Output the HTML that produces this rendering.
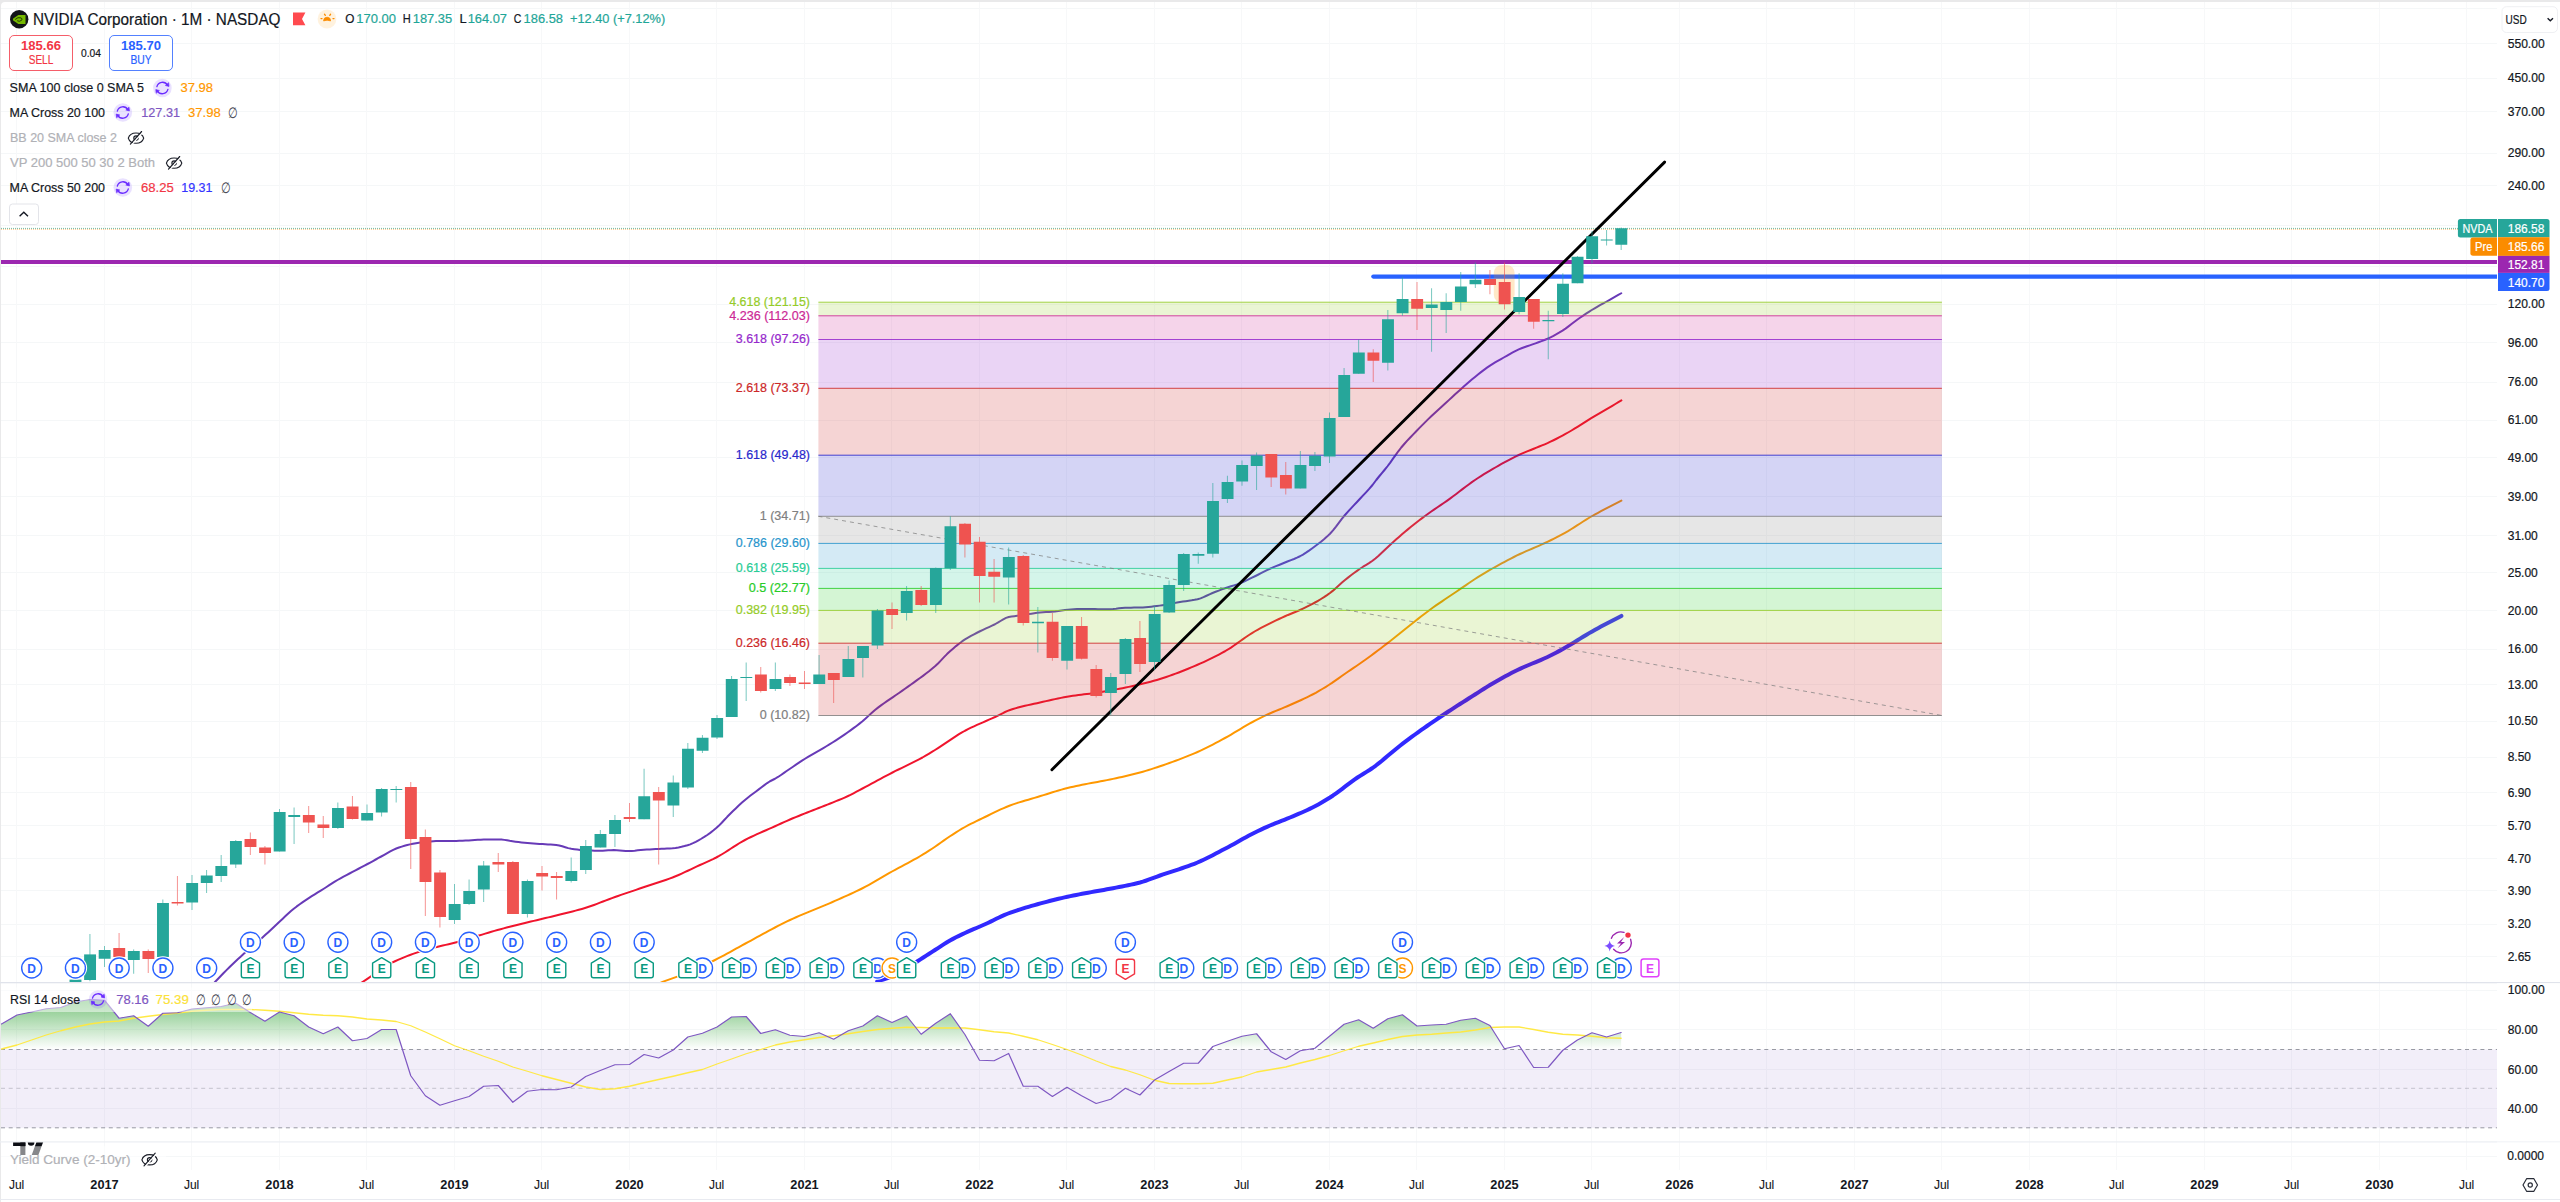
<!DOCTYPE html>
<html lang="en"><head><meta charset="utf-8"><title>NVDA chart</title>
<style>html,body{margin:0;padding:0;background:#fff;overflow:hidden}body{width:2560px;height:1202px}svg{display:block;font-family:'Liberation Sans', sans-serif}text{white-space:pre}</style>
</head><body>
<svg width="2560" height="1202" viewBox="0 0 2560 1202">
<defs>
<clipPath id="cm"><rect x="1" y="2" width="2496" height="980"/></clipPath>
<clipPath id="cr"><rect x="1" y="983" width="2496" height="158"/></clipPath>
<clipPath id="c70"><rect x="0" y="983" width="2497" height="66.5"/></clipPath>
<linearGradient id="gg" x1="0" y1="990.5" x2="0" y2="1049.5" gradientUnits="userSpaceOnUse"><stop offset="0" stop-color="#4caf50" stop-opacity="0.88"/><stop offset="1" stop-color="#4caf50" stop-opacity="0"/></linearGradient>
</defs>
<rect width="2560" height="1202" fill="#e9e9ea"/>
<path d="M1 6 a4 4 0 0 1 4 -4 H2560 V1202 H1 Z" fill="#fff"/>
<rect x="0" y="1199" width="2560" height="1" fill="#e8eaf0"/>
<rect x="1" y="1200" width="2559" height="2" fill="#fff"/>
<g fill="#f5f7f8">
<rect x="1" y="8" width="2496" height="1"/>
<rect x="1" y="43" width="2496" height="1"/>
<rect x="1" y="78" width="2496" height="1"/>
<rect x="1" y="111" width="2496" height="1"/>
<rect x="1" y="153" width="2496" height="1"/>
<rect x="1" y="185" width="2496" height="1"/>
<rect x="1" y="225" width="2496" height="1"/>
<rect x="1" y="266" width="2496" height="1"/>
<rect x="1" y="304" width="2496" height="1"/>
<rect x="1" y="342" width="2496" height="1"/>
<rect x="1" y="382" width="2496" height="1"/>
<rect x="1" y="420" width="2496" height="1"/>
<rect x="1" y="457" width="2496" height="1"/>
<rect x="1" y="496" width="2496" height="1"/>
<rect x="1" y="535" width="2496" height="1"/>
<rect x="1" y="572" width="2496" height="1"/>
<rect x="1" y="610" width="2496" height="1"/>
<rect x="1" y="649" width="2496" height="1"/>
<rect x="1" y="684" width="2496" height="1"/>
<rect x="1" y="721" width="2496" height="1"/>
<rect x="1" y="757" width="2496" height="1"/>
<rect x="1" y="792" width="2496" height="1"/>
<rect x="1" y="825" width="2496" height="1"/>
<rect x="1" y="858" width="2496" height="1"/>
<rect x="1" y="890" width="2496" height="1"/>
<rect x="1" y="924" width="2496" height="1"/>
<rect x="1" y="956" width="2496" height="1"/>
<rect x="1" y="990" width="2496" height="1"/>
<rect x="1" y="1029" width="2496" height="1"/>
<rect x="1" y="1069" width="2496" height="1"/>
<rect x="1" y="1108" width="2496" height="1"/>
<rect x="1" y="1156" width="2496" height="1"/>
<rect x="16" y="2" width="1" height="1168" fill="#f7f8f9"/>
<rect x="104" y="2" width="1" height="1168" fill="#f7f8f9"/>
<rect x="191" y="2" width="1" height="1168" fill="#f7f8f9"/>
<rect x="279" y="2" width="1" height="1168" fill="#f7f8f9"/>
<rect x="366" y="2" width="1" height="1168" fill="#f7f8f9"/>
<rect x="454" y="2" width="1" height="1168" fill="#f7f8f9"/>
<rect x="541" y="2" width="1" height="1168" fill="#f7f8f9"/>
<rect x="629" y="2" width="1" height="1168" fill="#f7f8f9"/>
<rect x="716" y="2" width="1" height="1168" fill="#f7f8f9"/>
<rect x="804" y="2" width="1" height="1168" fill="#f7f8f9"/>
<rect x="891" y="2" width="1" height="1168" fill="#f7f8f9"/>
<rect x="979" y="2" width="1" height="1168" fill="#f7f8f9"/>
<rect x="1066" y="2" width="1" height="1168" fill="#f7f8f9"/>
<rect x="1154" y="2" width="1" height="1168" fill="#f7f8f9"/>
<rect x="1241" y="2" width="1" height="1168" fill="#f7f8f9"/>
<rect x="1329" y="2" width="1" height="1168" fill="#f7f8f9"/>
<rect x="1416" y="2" width="1" height="1168" fill="#f7f8f9"/>
<rect x="1504" y="2" width="1" height="1168" fill="#f7f8f9"/>
<rect x="1591" y="2" width="1" height="1168" fill="#f7f8f9"/>
<rect x="1679" y="2" width="1" height="1168" fill="#f7f8f9"/>
<rect x="1766" y="2" width="1" height="1168" fill="#f7f8f9"/>
<rect x="1854" y="2" width="1" height="1168" fill="#f7f8f9"/>
<rect x="1941" y="2" width="1" height="1168" fill="#f7f8f9"/>
<rect x="2029" y="2" width="1" height="1168" fill="#f7f8f9"/>
<rect x="2116" y="2" width="1" height="1168" fill="#f7f8f9"/>
<rect x="2204" y="2" width="1" height="1168" fill="#f7f8f9"/>
<rect x="2291" y="2" width="1" height="1168" fill="#f7f8f9"/>
<rect x="2379" y="2" width="1" height="1168" fill="#f7f8f9"/>
<rect x="2466" y="2" width="1" height="1168" fill="#f7f8f9"/>
</g>
<g clip-path="url(#cr)">
<rect x="1" y="1049.5" width="2496" height="78.3" fill="#7e57c2" fill-opacity="0.1"/>
<path d="M-12.17,1060 L-12.17,1030 L2.42,1023.5 L17,1015 L31.58,1012 L46.17,1008.75 L60.75,1007.5 L75.33,1002 L89.92,999.5 L104.5,1000.25 L119.08,1018.25 L133.67,1015.75 L148.25,1026.25 L162.83,1013.25 L177.42,1012.75 L192,1009 L206.58,1007.75 L221.17,1006.5 L235.75,1003.25 L250.33,1012.5 L264.92,1021.25 L279.5,1012 L294.08,1015.75 L308.67,1027 L323.25,1033.75 L337.83,1027 L352.42,1040.75 L367,1038.5 L381.58,1029.5 L396.17,1029.5 L410.75,1075.75 L425.33,1095.75 L439.92,1105.25 L454.5,1100.75 L469.08,1096.5 L483.67,1086.25 L498.25,1085.5 L512.83,1102.25 L527.42,1091.25 L542,1089.5 L556.58,1089.75 L571.17,1087 L585.75,1076.5 L600.33,1070.5 L614.92,1064.75 L629.5,1064.5 L644.08,1054.5 L658.67,1058 L673.25,1050 L687.83,1037 L702.42,1033.25 L717,1027 L731.58,1017 L746.17,1016.5 L760.75,1033.5 L775.33,1029.75 L789.92,1035.25 L804.5,1036.5 L819.08,1032.75 L833.66,1039.25 L848.25,1030.75 L862.83,1026 L877.41,1015.75 L892,1022.5 L906.58,1016 L921.16,1034.25 L935.75,1023.25 L950.33,1013.75 L964.91,1034.5 L979.5,1060.25 L994.08,1060.75 L1008.66,1053.5 L1023.25,1086.25 L1037.83,1086.25 L1052.41,1096.5 L1067,1087.25 L1081.58,1095.75 L1096.16,1103.5 L1110.75,1099.25 L1125.33,1088.25 L1139.91,1095 L1154.5,1080 L1169.08,1071.5 L1183.66,1063.25 L1198.25,1063.25 L1212.83,1046.5 L1227.41,1041.25 L1242,1036.25 L1256.58,1033.75 L1271.16,1051.75 L1285.75,1059.5 L1300.33,1050.75 L1314.91,1048.25 L1329.5,1036.25 L1344.08,1024.25 L1358.66,1019.75 L1373.25,1028.25 L1387.83,1018.75 L1402.41,1014.75 L1417,1026 L1431.58,1025 L1446.16,1024.25 L1460.75,1020.25 L1475.33,1018.25 L1489.91,1025.5 L1504.5,1048.75 L1519.08,1045.5 L1533.66,1067.5 L1548.25,1067.25 L1562.83,1050.25 L1577.41,1040 L1592,1032.75 L1606.58,1037 L1621.16,1032.5 L1621.16,1060 Z" fill="url(#gg)" clip-path="url(#c70)"/>
<line x1="1" x2="2497" y1="1049.5" y2="1049.5" stroke="#787b86" stroke-opacity="0.75" stroke-width="1" stroke-dasharray="4 3.7"/>
<line x1="1" x2="2497" y1="1088.3" y2="1088.3" stroke="#787b86" stroke-opacity="0.38" stroke-width="1" stroke-dasharray="4 3.7"/>
<line x1="1" x2="2497" y1="1127.8" y2="1127.8" stroke="#787b86" stroke-opacity="0.75" stroke-width="1" stroke-dasharray="4 3.7"/>
<polyline points="-12.17,1052 2.42,1048.75 17,1045 31.58,1040 46.17,1035 60.75,1030.75 75.33,1027 89.92,1024 104.5,1022 119.08,1021 133.67,1018.25 148.25,1016.25 162.83,1014.5 177.42,1013 192,1011.25 206.58,1010.25 221.17,1009.5 235.75,1009.5 250.33,1009.5 264.92,1010.25 279.5,1011.25 294.08,1012.75 308.67,1014.25 323.25,1015.25 337.83,1015.75 352.42,1017 367,1019 381.58,1020 396.17,1021.5 410.75,1025.75 425.33,1032 439.92,1038.75 454.5,1045.75 469.08,1050.75 483.67,1056.25 498.25,1061.25 512.83,1067 527.42,1071.25 542,1075.75 556.58,1079.5 571.17,1083.25 585.75,1087 600.33,1089.5 614.92,1088.75 629.5,1086.25 644.08,1082.75 658.67,1079.5 673.25,1076.25 687.83,1072.75 702.42,1069.5 717,1064 731.58,1059 746.17,1053.75 760.75,1049.5 775.33,1045 789.92,1042 804.5,1039.75 819.08,1037.5 833.66,1035.75 848.25,1033.75 862.83,1031.5 877.41,1029.5 892,1028.25 906.58,1027.25 921.16,1027.5 935.75,1028 950.33,1028 964.91,1028 979.5,1029.75 994.08,1031.75 1008.66,1033 1023.25,1036.25 1037.83,1039.75 1052.41,1044.5 1067,1049.5 1081.58,1055 1096.16,1061 1110.75,1066.5 1125.33,1070 1139.91,1074.75 1154.5,1080.25 1169.08,1083.5 1183.66,1083.75 1198.25,1083.75 1212.83,1083.25 1227.41,1080 1242,1077 1256.58,1072 1271.16,1069.5 1285.75,1067 1300.33,1063 1314.91,1059.5 1329.5,1055.5 1344.08,1050.75 1358.66,1046.25 1373.25,1043 1387.83,1039.5 1402.41,1036.5 1417,1035 1431.58,1034.25 1446.16,1033 1460.75,1032 1475.33,1030 1489.91,1027.5 1504.5,1027 1519.08,1027 1533.66,1029.5 1548.25,1032.25 1562.83,1034.25 1577.41,1035 1592,1036.25 1606.58,1037.75 1621.16,1038.25" fill="none" stroke="#ffe83b" stroke-width="1.3" stroke-linejoin="round" stroke-linecap="round" stroke-opacity="0.95"/>
<polyline points="-12.17,1030 2.42,1023.5 17,1015 31.58,1012 46.17,1008.75 60.75,1007.5 75.33,1002 89.92,999.5 104.5,1000.25 119.08,1018.25 133.67,1015.75 148.25,1026.25 162.83,1013.25 177.42,1012.75 192,1009 206.58,1007.75 221.17,1006.5 235.75,1003.25 250.33,1012.5 264.92,1021.25 279.5,1012 294.08,1015.75 308.67,1027 323.25,1033.75 337.83,1027 352.42,1040.75 367,1038.5 381.58,1029.5 396.17,1029.5 410.75,1075.75 425.33,1095.75 439.92,1105.25 454.5,1100.75 469.08,1096.5 483.67,1086.25 498.25,1085.5 512.83,1102.25 527.42,1091.25 542,1089.5 556.58,1089.75 571.17,1087 585.75,1076.5 600.33,1070.5 614.92,1064.75 629.5,1064.5 644.08,1054.5 658.67,1058 673.25,1050 687.83,1037 702.42,1033.25 717,1027 731.58,1017 746.17,1016.5 760.75,1033.5 775.33,1029.75 789.92,1035.25 804.5,1036.5 819.08,1032.75 833.66,1039.25 848.25,1030.75 862.83,1026 877.41,1015.75 892,1022.5 906.58,1016 921.16,1034.25 935.75,1023.25 950.33,1013.75 964.91,1034.5 979.5,1060.25 994.08,1060.75 1008.66,1053.5 1023.25,1086.25 1037.83,1086.25 1052.41,1096.5 1067,1087.25 1081.58,1095.75 1096.16,1103.5 1110.75,1099.25 1125.33,1088.25 1139.91,1095 1154.5,1080 1169.08,1071.5 1183.66,1063.25 1198.25,1063.25 1212.83,1046.5 1227.41,1041.25 1242,1036.25 1256.58,1033.75 1271.16,1051.75 1285.75,1059.5 1300.33,1050.75 1314.91,1048.25 1329.5,1036.25 1344.08,1024.25 1358.66,1019.75 1373.25,1028.25 1387.83,1018.75 1402.41,1014.75 1417,1026 1431.58,1025 1446.16,1024.25 1460.75,1020.25 1475.33,1018.25 1489.91,1025.5 1504.5,1048.75 1519.08,1045.5 1533.66,1067.5 1548.25,1067.25 1562.83,1050.25 1577.41,1040 1592,1032.75 1606.58,1037 1621.16,1032.5" fill="none" stroke="#7e57c2" stroke-width="1.2" stroke-linejoin="round" stroke-linecap="round"/>
</g>
<g clip-path="url(#cm)">
<line x1="1" x2="2458" y1="228.4" y2="228.4" stroke="#2e9e80" stroke-width="1" stroke-dasharray="1 1" stroke-opacity="0.7"/>
<line x1="1" x2="2471" y1="229.4" y2="229.4" stroke="#ff9a20" stroke-width="1" stroke-dasharray="1 1" stroke-opacity="0.5"/>
<polyline points="877.2,981.4 880.16,980.44 883.12,979.51 886.08,978.57 889.04,977.55 892,976.4 894.92,975.07 897.84,973.55 900.76,971.89 903.68,970.16 906.6,968.4 909.33,966.7 912.05,964.89 914.77,963.06 917.5,961.25 920.42,959.36 923.33,957.48 926.25,955.6 929.17,953.73 932.08,951.86 935,950 938,948.06 941,946.08 944,944.13 947,942.25 950,940.5 953,938.87 956,937.33 959,935.85 962,934.41 965,933 967.86,931.69 970.71,930.43 973.57,929.19 976.43,927.97 979.29,926.75 982.14,925.52 985,924.25 987.81,922.94 990.62,921.58 993.44,920.19 996.25,918.8 999.06,917.43 1001.88,916.12 1004.69,914.88 1007.5,913.75 1010.5,912.63 1013.5,911.57 1016.5,910.55 1019.5,909.57 1022.5,908.62 1025.5,907.7 1028.5,906.81 1031.5,905.95 1034.5,905.09 1037.5,904.25 1040.5,903.42 1043.5,902.61 1046.5,901.81 1049.5,901.04 1052.5,900.28 1055.5,899.54 1058.5,898.81 1061.5,898.11 1064.5,897.42 1067.5,896.75 1070.42,896.12 1073.33,895.52 1076.25,894.93 1079.17,894.36 1082.08,893.81 1085,893.25 1088.12,892.67 1091.25,892.1 1094.38,891.55 1097.5,891.01 1100.62,890.46 1103.75,889.91 1106.88,889.34 1110,888.75 1113,888.18 1116,887.62 1119,887.05 1122,886.48 1125,885.9 1128,885.29 1131,884.66 1134,883.99 1137,883.27 1140,882.5 1142.86,881.68 1145.71,880.74 1148.57,879.73 1151.43,878.67 1154.29,877.59 1157.14,876.53 1160,875.5 1163.12,874.43 1166.25,873.38 1169.38,872.36 1172.5,871.34 1175.62,870.33 1178.75,869.3 1181.88,868.26 1185,867.2 1188.12,866.1 1191.25,864.95 1194.38,863.76 1197.5,862.5 1200.56,861.19 1203.61,859.79 1206.67,858.31 1209.72,856.78 1212.78,855.2 1215.83,853.59 1218.89,851.97 1221.94,850.35 1225,848.75 1228,847.17 1231,845.54 1234,843.89 1237,842.22 1240,840.54 1243,838.87 1246,837.22 1249,835.6 1252,834.02 1255,832.5 1258,831.02 1261,829.58 1264,828.18 1267,826.82 1270,825.5 1272.86,824.3 1275.71,823.14 1278.57,822.02 1281.43,820.92 1284.29,819.81 1287.14,818.67 1290,817.5 1292.81,816.32 1295.62,815.14 1298.44,813.94 1301.25,812.73 1304.06,811.49 1306.88,810.21 1309.69,808.88 1312.5,807.5 1315.42,806 1318.33,804.43 1321.25,802.79 1324.17,801.09 1327.08,799.32 1330,797.5 1333.06,795.49 1336.11,793.34 1339.17,791.1 1342.22,788.8 1345.28,786.46 1348.33,784.13 1351.39,781.84 1354.44,779.62 1357.5,777.5 1360.5,775.56 1363.5,773.71 1366.5,771.89 1369.5,770.01 1372.5,768 1375.56,765.78 1378.61,763.42 1381.67,760.95 1384.72,758.41 1387.78,755.84 1390.83,753.25 1393.89,750.68 1396.94,748.17 1400,745.75 1403,743.44 1406,741.16 1409,738.9 1412,736.69 1415,734.5 1418,732.34 1421,730.21 1424,728.09 1427,725.99 1430,723.91 1433,721.85 1436,719.8 1439,717.77 1442,715.75 1445,713.75 1448,711.77 1451,709.8 1454,707.86 1457,705.93 1460,704.02 1463,702.11 1466,700.21 1469,698.31 1472,696.41 1475,694.5 1478,692.57 1481,690.63 1484,688.7 1487,686.82 1490,685 1493.06,683.21 1496.11,681.44 1499.17,679.7 1502.22,677.99 1505.28,676.31 1508.33,674.67 1511.39,673.07 1514.44,671.51 1517.5,670 1520.45,668.6 1523.41,667.26 1526.36,665.98 1529.32,664.73 1532.27,663.51 1535.23,662.29 1538.18,661.06 1541.14,659.82 1544.09,658.53 1547.05,657.2 1550,655.8 1553,654.3 1556,652.74 1559,651.13 1562,649.48 1565,647.8 1568.02,646.06 1571.04,644.26 1574.07,642.42 1577.09,640.55 1580.11,638.67 1583.13,636.79 1586.16,634.95 1589.18,633.14 1592.2,631.4 1595.12,629.77 1598.04,628.17 1600.96,626.6 1603.88,625.06 1606.8,623.53 1609.72,622 1612.64,620.49 1615.56,618.97 1618.48,617.44 1621.4,615.9" fill="none" stroke="#3129ff" stroke-width="4" stroke-linejoin="round" stroke-linecap="round"/>
<polyline points="645,990 647.92,988.65 650.83,987.27 653.75,985.89 656.67,984.54 659.58,983.24 662.5,982 665.31,980.89 668.12,979.84 670.94,978.84 673.75,977.87 676.56,976.89 679.38,975.89 682.19,974.85 685,973.75 688,972.51 691,971.24 694,969.93 697,968.59 700,967.22 703,965.82 706,964.39 709,962.95 712,961.48 715,960 718,958.48 721,956.92 724,955.31 727,953.68 730,952.02 733,950.35 736,948.68 739,947.02 742,945.37 745,943.75 748,942.14 751,940.51 754,938.87 757,937.23 760,935.59 763,933.95 766,932.32 769,930.7 772,929.09 775,927.5 778,925.94 781,924.4 784,922.9 787,921.43 790,920 793.04,918.6 796.07,917.24 799.11,915.91 802.14,914.62 805.18,913.35 808.21,912.09 811.25,910.85 814.29,909.61 817.32,908.38 820.36,907.14 823.39,905.89 826.43,904.62 829.46,903.32 832.5,902 835.5,900.68 838.5,899.36 841.5,898.04 844.5,896.71 847.5,895.37 850.5,894.01 853.5,892.62 856.5,891.2 859.5,889.75 862.5,888.25 865.5,886.69 868.5,885.07 871.5,883.39 874.5,881.68 877.5,879.93 880.5,878.18 883.5,876.41 886.5,874.67 889.5,872.94 892.5,871.25 895.56,869.57 898.61,867.93 901.67,866.3 904.72,864.68 907.78,863.06 910.83,861.41 913.89,859.74 916.94,858.02 920,856.25 923,854.45 926,852.59 929,850.68 932,848.73 935,846.75 938,844.7 941,842.56 944,840.4 947,838.28 950,836.25 953,834.3 956,832.38 959,830.51 962,828.71 965,827 967.86,825.45 970.71,823.96 973.57,822.52 976.43,821.11 979.29,819.73 982.14,818.37 985,817 988.12,815.48 991.25,813.95 994.38,812.42 997.5,810.91 1000.62,809.44 1003.75,808.04 1006.88,806.72 1010,805.5 1013.06,804.4 1016.11,803.38 1019.17,802.41 1022.22,801.48 1025.28,800.57 1028.33,799.69 1031.39,798.81 1034.44,797.91 1037.5,797 1040.5,796.07 1043.5,795.13 1046.5,794.18 1049.5,793.23 1052.5,792.28 1055.5,791.36 1058.5,790.46 1061.5,789.59 1064.5,788.77 1067.5,788 1070.42,787.31 1073.33,786.65 1076.25,786.03 1079.17,785.43 1082.08,784.84 1085,784.25 1088.12,783.63 1091.25,783.04 1094.38,782.47 1097.5,781.9 1100.62,781.32 1103.75,780.74 1106.88,780.13 1110,779.5 1113,778.87 1116,778.23 1119,777.58 1122,776.91 1125,776.23 1128,775.53 1131,774.81 1134,774.06 1137,773.3 1140,772.5 1142.86,771.71 1145.71,770.87 1148.57,770 1151.43,769.09 1154.29,768.16 1157.14,767.21 1160,766.25 1163.12,765.18 1166.25,764.1 1169.38,763 1172.5,761.89 1175.62,760.75 1178.75,759.59 1181.88,758.4 1185,757.19 1188.12,755.94 1191.25,754.66 1194.38,753.35 1197.5,752 1200.56,750.63 1203.61,749.19 1206.67,747.69 1209.72,746.15 1212.78,744.56 1215.83,742.95 1218.89,741.31 1221.94,739.66 1225,738 1228.06,736.3 1231.11,734.54 1234.17,732.73 1237.22,730.89 1240.28,729.05 1243.33,727.22 1246.39,725.42 1249.44,723.67 1252.5,722 1255.5,720.42 1258.5,718.87 1261.5,717.37 1264.5,715.91 1267.5,714.5 1270.31,713.24 1273.12,712.03 1275.94,710.85 1278.75,709.7 1281.56,708.56 1284.38,707.4 1287.19,706.22 1290,705 1292.81,703.75 1295.62,702.51 1298.44,701.25 1301.25,699.97 1304.06,698.67 1306.88,697.33 1309.69,695.94 1312.5,694.5 1315.75,692.76 1319,690.92 1322.25,689.01 1325.5,687.04 1328.75,685 1332,682.87 1335.25,680.63 1338.5,678.34 1341.75,676.03 1345,673.75 1347.86,671.79 1350.71,669.85 1353.57,667.91 1356.43,665.97 1359.29,664.01 1362.14,662.02 1365,660 1368.12,657.75 1371.25,655.46 1374.38,653.15 1377.5,650.81 1380.62,648.44 1383.75,646.06 1386.88,643.66 1390,641.25 1393.12,638.81 1396.25,636.32 1399.38,633.81 1402.5,631.28 1405.62,628.75 1408.75,626.22 1411.88,623.72 1415,621.25 1418,618.89 1421,616.54 1424,614.21 1427,611.92 1430,609.7 1433,607.54 1436,605.42 1439,603.35 1442,601.3 1445,599.27 1448,597.26 1451,595.26 1454,593.25 1457,591.23 1460,589.2 1463,587.14 1466,585.06 1469,582.99 1472,580.96 1475,579 1477.9,577.16 1480.8,575.35 1483.7,573.59 1486.6,571.85 1489.5,570.16 1492.4,568.5 1495.47,566.78 1498.53,565.08 1501.6,563.41 1504.67,561.76 1507.73,560.15 1510.8,558.56 1513.87,557.01 1516.93,555.48 1520,554 1523.12,552.55 1526.25,551.16 1529.38,549.81 1532.5,548.49 1535.62,547.16 1538.75,545.82 1541.88,544.44 1545,543 1547.86,541.64 1550.71,540.25 1553.57,538.83 1556.43,537.38 1559.29,535.89 1562.14,534.37 1565,532.8 1568.02,531.07 1571.04,529.24 1574.07,527.35 1577.09,525.42 1580.11,523.47 1583.13,521.53 1586.16,519.62 1589.18,517.77 1592.2,516 1595.12,514.36 1598.04,512.76 1600.96,511.2 1603.88,509.66 1606.8,508.15 1609.72,506.64 1612.64,505.14 1615.56,503.64 1618.48,502.13 1621.4,500.6" fill="none" stroke="#ff9800" stroke-width="2" stroke-linejoin="round" stroke-linecap="round"/>
<polyline points="350,990 353.12,988 356.25,986 359.38,984 362.5,982 365.45,980.07 368.41,978.08 371.36,976.04 374.32,973.99 377.27,971.95 380.23,969.94 383.18,967.99 386.14,966.12 389.09,964.36 392.05,962.73 395,961.25 398,959.87 401,958.56 404,957.31 407,956.11 410,954.98 413,953.89 416,952.85 419,951.86 422,950.91 425,950 427.95,949.15 430.91,948.36 433.86,947.62 436.82,946.91 439.77,946.22 442.73,945.55 445.68,944.88 448.64,944.2 451.59,943.5 454.55,942.77 457.5,942 460.58,941.15 463.65,940.27 466.73,939.35 469.81,938.42 472.88,937.47 475.96,936.51 479.04,935.54 482.12,934.58 485.19,933.62 488.27,932.68 491.35,931.76 494.42,930.86 497.5,930 500.56,929.17 503.61,928.37 506.67,927.58 509.72,926.8 512.78,926.03 515.83,925.27 518.89,924.51 521.94,923.76 525,923 527.92,922.28 530.83,921.57 533.75,920.86 536.67,920.16 539.58,919.46 542.5,918.76 545.42,918.06 548.33,917.36 551.25,916.66 554.17,915.95 557.08,915.23 560,914.5 563.12,913.72 566.25,912.95 569.38,912.19 572.5,911.41 575.62,910.61 578.75,909.78 581.88,908.92 585,908 588,907.05 591,906.03 594,904.96 597,903.84 600,902.69 603,901.52 606,900.36 609,899.21 612,898.08 615,897 618,895.95 621,894.91 624,893.88 627,892.86 630,891.85 633,890.84 636,889.83 639,888.82 642,887.81 645,886.8 648.06,885.78 651.11,884.78 654.17,883.8 657.22,882.81 660.28,881.82 663.33,880.8 666.39,879.75 669.44,878.65 672.5,877.5 675.56,876.27 678.61,874.97 681.67,873.61 684.72,872.21 687.78,870.77 690.83,869.32 693.89,867.86 696.94,866.42 700,865 703.25,863.54 706.5,862.1 709.75,860.64 713,859.12 716.25,857.5 719.12,855.94 722,854.25 724.88,852.48 727.75,850.64 730.62,848.77 733.5,846.9 736.38,845.05 739.25,843.27 742.12,841.57 745,840 748,838.47 751,837 754,835.58 757,834.21 760,832.86 763,831.54 766,830.23 769,828.92 772,827.6 775,826.25 778,824.88 781,823.51 784,822.14 787,820.8 790,819.5 792.88,818.29 795.75,817.11 798.62,815.95 801.5,814.8 804.38,813.67 807.25,812.55 810.12,811.42 813,810.29 815.88,809.15 818.75,808 821.62,806.85 824.5,805.72 827.38,804.59 830.25,803.47 833.12,802.33 836,801.18 838.88,800.01 841.75,798.8 844.62,797.55 847.5,796.25 850.5,794.81 853.5,793.28 856.5,791.69 859.5,790.09 862.5,788.5 865.5,786.92 868.5,785.32 871.5,783.71 874.5,782.09 877.5,780.47 880.5,778.85 883.5,777.24 886.5,775.64 889.5,774.06 892.5,772.5 895.5,770.97 898.5,769.49 901.5,768.03 904.5,766.58 907.5,765.14 910.5,763.68 913.5,762.2 916.5,760.69 919.5,759.12 922.5,757.5 925.62,755.72 928.75,753.85 931.88,751.93 935,750 938,748.11 941,746.14 944,744.13 947,742.1 950,740.07 953,738.06 956,736.1 959,734.21 962,732.42 965,730.75 968,729.19 971,727.71 974,726.3 977,724.93 980,723.61 983,722.3 986,721 989,719.69 992,718.37 995,717 998,715.54 1001,714.02 1004,712.53 1007,711.15 1010,710 1013,709.03 1016,708.14 1019,707.32 1022,706.56 1025,705.84 1028,705.15 1031,704.49 1034,703.83 1037,703.17 1040,702.5 1043,701.82 1046,701.13 1049,700.45 1052,699.78 1055,699.13 1058,698.49 1061,697.88 1064,697.3 1067,696.75 1070,696.25 1072.81,695.82 1075.62,695.42 1078.44,695.06 1081.25,694.7 1084.06,694.36 1086.88,694.01 1089.69,693.64 1092.5,693.25 1095.42,692.82 1098.33,692.39 1101.25,691.94 1104.17,691.48 1107.08,691 1110,690.5 1113.12,689.94 1116.25,689.37 1119.38,688.77 1122.5,688.16 1125.62,687.53 1128.75,686.87 1131.88,686.2 1135,685.5 1138.12,684.78 1141.25,684.05 1144.38,683.29 1147.5,682.5 1150.62,681.68 1153.75,680.82 1156.88,679.93 1160,679 1163.12,678.02 1166.25,677 1169.38,675.92 1172.5,674.81 1175.62,673.66 1178.75,672.47 1181.88,671.24 1185,669.99 1188.12,668.71 1191.25,667.41 1194.38,666.09 1197.5,664.75 1200.56,663.42 1203.61,662.05 1206.67,660.64 1209.72,659.2 1212.78,657.71 1215.83,656.17 1218.89,654.58 1221.94,652.94 1225,651.25 1228,649.47 1231,647.55 1234,645.52 1237,643.42 1240,641.28 1243,639.13 1246,637.02 1249,634.98 1252,633.05 1255,631.25 1258,629.56 1261,627.93 1264,626.34 1267,624.8 1270,623.29 1273,621.83 1276,620.39 1279,618.99 1282,617.61 1285,616.25 1288,614.95 1291,613.73 1294,612.53 1297,611.31 1300,610 1303,608.62 1306,607.18 1309,605.69 1312,604.13 1315,602.5 1318,600.79 1321,599 1324,597.12 1327,595.12 1330,593 1333,590.63 1336,588 1339,585.26 1342,582.54 1345,580 1348,577.62 1351,575.3 1354,573.04 1357,570.86 1360,568.75 1363.12,566.72 1366.25,564.83 1369.38,562.9 1372.5,560.75 1375.42,558.44 1378.33,555.9 1381.25,553.2 1384.17,550.43 1387.08,547.67 1390,545 1393,542.31 1396,539.61 1399,536.93 1402,534.3 1405,531.75 1407.86,529.38 1410.71,527.06 1413.57,524.77 1416.43,522.52 1419.29,520.31 1422.14,518.13 1425,516 1428.12,513.73 1431.25,511.52 1434.38,509.36 1437.5,507.23 1440.62,505.11 1443.75,502.98 1446.88,500.82 1450,498.6 1453.12,496.31 1456.25,493.96 1459.38,491.57 1462.5,489.16 1465.62,486.78 1468.75,484.44 1471.88,482.17 1475,480 1478,478.01 1481,476.08 1484,474.2 1487,472.38 1490,470.6 1492.88,468.92 1495.75,467.25 1498.62,465.6 1501.5,463.97 1504.38,462.36 1507.25,460.8 1510.12,459.27 1513,457.79 1515.88,456.37 1518.75,455 1521.75,453.66 1524.75,452.39 1527.75,451.17 1530.75,449.97 1533.75,448.75 1536.5,447.63 1539.25,446.54 1542,445.43 1544.75,444.3 1547.5,443.1 1550.5,441.71 1553.5,440.26 1556.5,438.75 1559.5,437.19 1562.5,435.6 1565.5,433.96 1568.5,432.25 1571.5,430.5 1574.5,428.72 1577.5,426.9 1580.25,425.18 1583,423.4 1585.75,421.6 1588.5,419.82 1591.25,418.1 1594.25,416.31 1597.25,414.57 1600.25,412.85 1603.25,411.14 1606.25,409.4 1609.28,407.61 1612.31,405.82 1615.34,404.01 1618.37,402.2 1621.4,400.4" fill="none" stroke="#f0142d" stroke-width="2" stroke-linejoin="round" stroke-linecap="round"/>
<polyline points="208,990 211.5,985.94 215,982 217.88,978.95 220.75,975.96 223.62,973.02 226.5,970.14 229.38,967.31 232.25,964.53 235.12,961.78 238,959.08 240.88,956.4 243.75,953.75 246.88,950.95 250,948.24 253.12,945.58 256.25,942.93 259.38,940.25 262.5,937.5 265.42,934.85 268.33,932.15 271.25,929.42 274.17,926.68 277.08,923.95 280,921.25 282.75,918.69 285.5,916.09 288.25,913.52 291,911.05 293.75,908.75 296.75,906.43 299.75,904.23 302.75,902.13 305.75,900.1 308.75,898.1 311.75,896.16 314.75,894.28 317.75,892.45 320.75,890.61 323.75,888.75 326.5,886.99 329.25,885.19 332,883.41 334.75,881.66 337.5,880 340.5,878.29 343.5,876.65 346.5,875.06 349.5,873.49 352.5,871.9 355.5,870.31 358.5,868.74 361.5,867.17 364.5,865.59 367.5,864 370.25,862.51 373,861.01 375.75,859.5 378.5,857.99 381.25,856.5 384.25,854.82 387.25,853.07 390.25,851.36 393.25,849.8 396.25,848.5 399,847.5 401.75,846.59 404.5,845.77 407.25,845.04 410,844.4 413,843.77 416,843.19 419,842.67 422,842.24 425,841.9 427.75,841.64 430.5,841.4 433.25,841.19 436,841.05 438.75,841 441.56,841 444.38,841 447.19,841 450,841 453.12,840.97 456.25,840.9 459.38,840.79 462.5,840.67 465.62,840.53 468.75,840.4 471.75,840.25 474.75,840.06 477.75,839.87 480.75,839.7 483.75,839.6 486.75,839.54 489.75,839.48 492.75,839.44 495.75,839.41 498.75,839.4 501.5,839.54 504.25,839.88 507,840.34 509.75,840.83 512.5,841.25 515.5,841.65 518.5,842.05 521.5,842.45 524.5,842.8 527.5,843.1 530.5,843.34 533.5,843.54 536.5,843.73 539.5,843.91 542.5,844.1 545.25,844.26 548,844.41 550.75,844.57 553.5,844.75 556.25,845 559.25,845.51 562.25,846.32 565.25,847.25 568.25,848.12 571.25,848.75 574.25,849.2 577.25,849.6 580.25,849.95 583.25,850.22 586.25,850.4 589,850.51 591.75,850.6 594.5,850.68 597.25,850.73 600,850.75 602.75,850.68 605.5,850.52 608.25,850.33 611,850.17 613.75,850.1 616.75,850.19 619.75,850.42 622.75,850.68 625.75,850.91 628.75,851 631.75,850.9 634.75,850.66 637.75,850.34 640.75,850.01 643.75,849.75 646.75,849.56 649.75,849.38 652.75,849.21 655.75,849.05 658.75,848.9 661.5,848.78 664.25,848.67 667,848.56 669.75,848.43 672.5,848.25 675.5,847.93 678.5,847.44 681.5,846.81 684.5,846.07 687.5,845.25 690.25,844.33 693,843.15 695.75,841.79 698.5,840.3 701.25,838.75 704.25,836.96 707.25,834.99 710.25,832.85 713.25,830.55 716.25,828.1 719,825.58 721.75,822.76 724.5,819.79 727.25,816.82 730,814 733,811.07 736,808.17 739,805.34 742,802.61 745,800 747.75,797.74 750.5,795.58 753.25,793.5 756,791.44 758.75,789.4 761.56,787.25 764.38,785.09 767.19,783.04 770,781.25 772.5,779.99 775,778.75 778,776.96 781,774.98 784,772.91 787,770.8 790,768.75 793,766.73 796,764.7 799,762.67 802,760.68 805,758.75 808.06,756.87 811.11,755.05 814.17,753.28 817.22,751.54 820.28,749.8 823.33,748.05 826.39,746.26 829.44,744.42 832.5,742.5 835.5,740.56 838.5,738.59 841.5,736.6 844.5,734.56 847.5,732.48 850.5,730.36 853.5,728.18 856.5,725.94 859.5,723.63 862.5,721.25 865.62,718.55 868.75,715.62 871.88,712.7 875,710 878,707.64 881,705.39 884,703.23 887,701.14 890,699.08 893,697.06 896,695.03 899,692.98 902,690.9 905,688.75 908,686.58 911,684.45 914,682.32 917,680.19 920,678.03 923,675.83 926,673.57 929,671.24 932,668.8 935,666.25 938,663.44 941,660.36 944,657.18 947,654.09 950,651.25 953,648.63 956,646.1 959,643.69 962,641.44 965,639.4 968,637.56 971,635.86 974,634.28 977,632.75 980,631.25 983,629.8 986,628.42 989,627.06 992,625.69 995,624.25 997.75,622.72 1000.5,620.99 1003.25,619.31 1006,617.9 1008.75,617 1011.56,616.51 1014.38,616.15 1017.19,615.85 1020,615.5 1022.86,615.07 1025.71,614.6 1028.57,614.12 1031.43,613.64 1034.29,613.2 1037.14,612.81 1040,612.5 1043,612.27 1046,612.09 1049,611.93 1052,611.74 1055,611.5 1058.33,611.04 1061.67,610.46 1065,610 1068,609.71 1071,609.44 1074,609.22 1077,609.06 1080,609 1083,609.01 1086,609.03 1089,609.05 1092,609.09 1095,609.12 1098,609.16 1101,609.2 1104,609.22 1107,609.24 1110,609.25 1113,609.11 1116,608.76 1119,608.34 1122,607.96 1125,607.75 1128,607.68 1131,607.64 1134,607.61 1137,607.56 1140,607.5 1142.81,607.39 1145.62,607.2 1148.44,606.96 1151.25,606.67 1154.06,606.34 1156.88,605.99 1159.69,605.62 1162.5,605.25 1165.42,604.81 1168.33,604.29 1171.25,603.71 1174.17,603.11 1177.08,602.53 1180,602 1182.92,601.55 1185.83,601.14 1188.75,600.76 1191.67,600.34 1194.58,599.85 1197.5,599.25 1200.5,598.35 1203.5,597.12 1206.5,595.72 1209.5,594.3 1212.5,593 1215.62,591.77 1218.75,590.56 1221.88,589.39 1225,588.25 1228,587.23 1231,586.28 1234,585.34 1237,584.35 1240,583.25 1243,582.01 1246,580.64 1249,579.2 1252,577.72 1255,576.25 1258,574.76 1261,573.22 1264,571.68 1267,570.17 1270,568.75 1273,567.43 1276,566.17 1279,564.95 1282,563.73 1285,562.5 1288,561.3 1291,560.14 1294,558.96 1297,557.68 1300,556.25 1303,554.58 1306,552.69 1309,550.63 1312,548.47 1315,546.25 1318,544.01 1321,541.69 1324,539.24 1327,536.61 1330,533.75 1333,530.44 1336,526.66 1339,522.67 1342,518.7 1345,515 1348,511.61 1351,508.35 1354,505.16 1357,501.98 1360,498.75 1363.12,495.4 1366.25,492.09 1369.38,488.66 1372.5,485 1376.25,480 1379.06,476.5 1381.88,473.13 1384.69,469.76 1387.5,466.25 1390.25,462.57 1393,458.7 1395.75,454.8 1398.5,451.01 1401.25,447.5 1404.25,443.99 1407.25,440.67 1410.25,437.47 1413.25,434.36 1416.25,431.25 1419.25,428.15 1422.25,425.1 1425.25,422.1 1428.25,419.15 1431.25,416.25 1434.25,413.42 1437.25,410.66 1440.25,407.94 1443.25,405.23 1446.25,402.5 1449.12,399.87 1451.99,397.22 1454.86,394.59 1457.73,391.98 1460.6,389.4 1463.48,386.83 1466.36,384.27 1469.24,381.74 1472.12,379.28 1475,376.9 1478,374.49 1481,372.13 1484,369.84 1487,367.66 1490,365.6 1492.75,363.84 1495.5,362.19 1498.25,360.6 1501,359.04 1503.75,357.5 1506.75,355.78 1509.75,354.05 1512.75,352.38 1515.75,350.8 1518.75,349.4 1521.5,348.28 1524.25,347.27 1527,346.32 1529.75,345.38 1532.5,344.4 1535.5,343.32 1538.5,342.25 1541.5,341.17 1544.5,340.01 1547.5,338.75 1550.5,337.35 1553.5,335.82 1556.5,334.18 1559.5,332.44 1562.5,330.6 1565.5,328.58 1568.5,326.35 1571.5,324.02 1574.5,321.7 1577.5,319.5 1580.35,317.51 1583.2,315.56 1586.05,313.65 1588.9,311.79 1591.75,310 1594.65,308.27 1597.55,306.6 1600.45,304.98 1603.35,303.38 1606.25,301.75 1609.25,300.05 1612.25,298.35 1615.25,296.65 1618.25,294.95 1621.25,293.25" fill="none" stroke="#673ab7" stroke-width="2" stroke-linejoin="round" stroke-linecap="round"/>
<rect x="818.4" y="643.2" width="1123.5" height="72.3" fill="rgb(204,40,40)" fill-opacity="0.2"/>
<rect x="818.4" y="610.4" width="1123.5" height="32.8" fill="rgb(149,204,40)" fill-opacity="0.2"/>
<rect x="818.4" y="588.4" width="1123.5" height="22" fill="rgb(40,204,40)" fill-opacity="0.2"/>
<rect x="818.4" y="568.4" width="1123.5" height="20" fill="rgb(40,204,149)" fill-opacity="0.2"/>
<rect x="818.4" y="543.4" width="1123.5" height="25" fill="rgb(40,149,204)" fill-opacity="0.2"/>
<rect x="818.4" y="516.3" width="1123.5" height="27.1" fill="rgb(128,128,128)" fill-opacity="0.2"/>
<rect x="818.4" y="455.2" width="1123.5" height="61.1" fill="rgb(40,40,204)" fill-opacity="0.2"/>
<rect x="818.4" y="388.3" width="1123.5" height="66.9" fill="rgb(204,40,40)" fill-opacity="0.2"/>
<rect x="818.4" y="339.5" width="1123.5" height="48.8" fill="rgb(149,40,204)" fill-opacity="0.2"/>
<rect x="818.4" y="315.8" width="1123.5" height="23.7" fill="rgb(204,40,149)" fill-opacity="0.2"/>
<rect x="818.4" y="302.2" width="1123.5" height="13.6" fill="rgb(149,204,40)" fill-opacity="0.2"/>
<line x1="818.4" x2="1941.9" y1="715.5" y2="715.5" stroke="rgb(128,128,128)" stroke-width="1" stroke-opacity="0.85"/>
<line x1="818.4" x2="1941.9" y1="643.2" y2="643.2" stroke="rgb(204,40,40)" stroke-width="1" stroke-opacity="0.85"/>
<line x1="818.4" x2="1941.9" y1="610.4" y2="610.4" stroke="rgb(149,204,40)" stroke-width="1" stroke-opacity="0.85"/>
<line x1="818.4" x2="1941.9" y1="588.4" y2="588.4" stroke="rgb(40,204,40)" stroke-width="1" stroke-opacity="0.85"/>
<line x1="818.4" x2="1941.9" y1="568.4" y2="568.4" stroke="rgb(40,204,149)" stroke-width="1" stroke-opacity="0.85"/>
<line x1="818.4" x2="1941.9" y1="543.4" y2="543.4" stroke="rgb(40,149,204)" stroke-width="1" stroke-opacity="0.85"/>
<line x1="818.4" x2="1941.9" y1="516.3" y2="516.3" stroke="rgb(128,128,128)" stroke-width="1" stroke-opacity="0.85"/>
<line x1="818.4" x2="1941.9" y1="455.2" y2="455.2" stroke="rgb(40,40,204)" stroke-width="1" stroke-opacity="0.85"/>
<line x1="818.4" x2="1941.9" y1="388.3" y2="388.3" stroke="rgb(204,40,40)" stroke-width="1" stroke-opacity="0.85"/>
<line x1="818.4" x2="1941.9" y1="339.5" y2="339.5" stroke="rgb(149,40,204)" stroke-width="1" stroke-opacity="0.85"/>
<line x1="818.4" x2="1941.9" y1="315.8" y2="315.8" stroke="rgb(204,40,149)" stroke-width="1" stroke-opacity="0.85"/>
<line x1="818.4" x2="1941.9" y1="302.2" y2="302.2" stroke="rgb(149,204,40)" stroke-width="1" stroke-opacity="0.85"/>
<line x1="818.4" y1="516.3" x2="1941.9" y2="715.5" stroke="#808080" stroke-width="1" stroke-dasharray="4 4" stroke-opacity="0.75"/>
<rect x="1" y="260" width="2496" height="4" fill="#9c27b0"/>
<line x1="1373.3" x2="2501" y1="276.6" y2="276.6" stroke="#2962ff" stroke-width="4.2" stroke-linecap="round"/>
<rect x="1493.8" y="265" width="20.8" height="37.5" rx="8" fill="#ff9800" fill-opacity="0.22"/>
<line x1="1051.9" y1="769.7" x2="1664.6" y2="162.1" stroke="#000" stroke-width="2.9" stroke-linecap="round"/>
<rect x="74.83" y="979.6" width="1" height="2.4" fill="#26a69a" fill-opacity="0.62"/>
<rect x="69.53" y="979.6" width="11.9" height="2.4" fill="#26a69a"/>
<rect x="89.42" y="934" width="1" height="47.25" fill="#26a69a" fill-opacity="0.62"/>
<rect x="84.12" y="954.4" width="11.9" height="25.6" fill="#26a69a"/>
<rect x="104" y="946" width="1" height="21" fill="#26a69a" fill-opacity="0.62"/>
<rect x="98.7" y="950" width="11.9" height="8.75" fill="#26a69a"/>
<rect x="118.58" y="933" width="1" height="25" fill="#ef5350" fill-opacity="0.62"/>
<rect x="113.28" y="948" width="11.9" height="9" fill="#ef5350"/>
<rect x="133.17" y="949.4" width="1" height="24.35" fill="#26a69a" fill-opacity="0.62"/>
<rect x="127.87" y="951" width="11.9" height="9" fill="#26a69a"/>
<rect x="147.75" y="949.4" width="1" height="23.6" fill="#ef5350" fill-opacity="0.62"/>
<rect x="142.45" y="951" width="11.9" height="8" fill="#ef5350"/>
<rect x="162.33" y="899.5" width="1" height="57.5" fill="#26a69a" fill-opacity="0.62"/>
<rect x="157.03" y="903" width="11.9" height="54" fill="#26a69a"/>
<rect x="176.92" y="876" width="1" height="29.5" fill="#ef5350" fill-opacity="0.62"/>
<rect x="171.62" y="902" width="11.9" height="1.5" fill="#ef5350"/>
<rect x="191.5" y="875" width="1" height="35" fill="#26a69a" fill-opacity="0.62"/>
<rect x="186.2" y="883" width="11.9" height="19.5" fill="#26a69a"/>
<rect x="206.08" y="870" width="1" height="23" fill="#26a69a" fill-opacity="0.62"/>
<rect x="200.78" y="875.5" width="11.9" height="7.5" fill="#26a69a"/>
<rect x="220.67" y="855" width="1" height="27" fill="#26a69a" fill-opacity="0.62"/>
<rect x="215.37" y="866" width="11.9" height="10" fill="#26a69a"/>
<rect x="235.25" y="840" width="1" height="28" fill="#26a69a" fill-opacity="0.62"/>
<rect x="229.95" y="841" width="11.9" height="23.5" fill="#26a69a"/>
<rect x="249.83" y="832.5" width="1" height="22.5" fill="#ef5350" fill-opacity="0.62"/>
<rect x="244.53" y="839" width="11.9" height="8" fill="#ef5350"/>
<rect x="264.42" y="846" width="1" height="18.5" fill="#ef5350" fill-opacity="0.62"/>
<rect x="259.12" y="847.5" width="11.9" height="5.5" fill="#ef5350"/>
<rect x="279" y="809" width="1" height="42.5" fill="#26a69a" fill-opacity="0.62"/>
<rect x="273.7" y="812" width="11.9" height="39.5" fill="#26a69a"/>
<rect x="293.58" y="807.5" width="1" height="36.5" fill="#26a69a" fill-opacity="0.62"/>
<rect x="288.28" y="815" width="11.9" height="2" fill="#26a69a"/>
<rect x="308.17" y="806" width="1" height="27" fill="#ef5350" fill-opacity="0.62"/>
<rect x="302.87" y="815" width="11.9" height="7.5" fill="#ef5350"/>
<rect x="322.75" y="816" width="1" height="22" fill="#ef5350" fill-opacity="0.62"/>
<rect x="317.45" y="824.5" width="11.9" height="3.5" fill="#ef5350"/>
<rect x="337.33" y="802.5" width="1" height="26.5" fill="#26a69a" fill-opacity="0.62"/>
<rect x="332.03" y="808" width="11.9" height="20" fill="#26a69a"/>
<rect x="351.92" y="796" width="1" height="23.5" fill="#ef5350" fill-opacity="0.62"/>
<rect x="346.62" y="806.5" width="11.9" height="12.5" fill="#ef5350"/>
<rect x="366.5" y="804.5" width="1" height="16" fill="#26a69a" fill-opacity="0.62"/>
<rect x="361.2" y="813" width="11.9" height="7.5" fill="#26a69a"/>
<rect x="381.08" y="788" width="1" height="28.5" fill="#26a69a" fill-opacity="0.62"/>
<rect x="375.78" y="789" width="11.9" height="23.5" fill="#26a69a"/>
<rect x="395.67" y="786" width="1" height="16.5" fill="#26a69a" fill-opacity="0.62"/>
<rect x="390.37" y="789" width="11.9" height="1" fill="#26a69a"/>
<rect x="410.25" y="782" width="1" height="87" fill="#ef5350" fill-opacity="0.62"/>
<rect x="404.95" y="787" width="11.9" height="52" fill="#ef5350"/>
<rect x="424.83" y="829.5" width="1" height="86.5" fill="#ef5350" fill-opacity="0.62"/>
<rect x="419.53" y="837" width="11.9" height="45" fill="#ef5350"/>
<rect x="439.42" y="870" width="1" height="57.5" fill="#ef5350" fill-opacity="0.62"/>
<rect x="434.12" y="872.5" width="11.9" height="44.5" fill="#ef5350"/>
<rect x="454" y="884" width="1" height="40" fill="#26a69a" fill-opacity="0.62"/>
<rect x="448.7" y="904" width="11.9" height="16" fill="#26a69a"/>
<rect x="468.58" y="879.5" width="1" height="25.5" fill="#26a69a" fill-opacity="0.62"/>
<rect x="463.28" y="891" width="11.9" height="13" fill="#26a69a"/>
<rect x="483.17" y="861" width="1" height="41" fill="#26a69a" fill-opacity="0.62"/>
<rect x="477.87" y="865.5" width="11.9" height="24" fill="#26a69a"/>
<rect x="497.75" y="853" width="1" height="19" fill="#ef5350" fill-opacity="0.62"/>
<rect x="492.45" y="862" width="11.9" height="2.5" fill="#ef5350"/>
<rect x="512.33" y="861" width="1" height="53" fill="#ef5350" fill-opacity="0.62"/>
<rect x="507.03" y="862" width="11.9" height="52" fill="#ef5350"/>
<rect x="526.92" y="879.5" width="1" height="38" fill="#26a69a" fill-opacity="0.62"/>
<rect x="521.62" y="881" width="11.9" height="33" fill="#26a69a"/>
<rect x="541.5" y="866" width="1" height="24.5" fill="#ef5350" fill-opacity="0.62"/>
<rect x="536.2" y="873" width="11.9" height="3.5" fill="#ef5350"/>
<rect x="556.08" y="872" width="1" height="27.5" fill="#ef5350" fill-opacity="0.62"/>
<rect x="550.78" y="876" width="11.9" height="2" fill="#ef5350"/>
<rect x="570.67" y="857.5" width="1" height="25" fill="#26a69a" fill-opacity="0.62"/>
<rect x="565.37" y="871" width="11.9" height="10" fill="#26a69a"/>
<rect x="585.25" y="840" width="1" height="34" fill="#26a69a" fill-opacity="0.62"/>
<rect x="579.95" y="846" width="11.9" height="24" fill="#26a69a"/>
<rect x="599.83" y="830" width="1" height="17.5" fill="#26a69a" fill-opacity="0.62"/>
<rect x="594.53" y="834" width="11.9" height="13.5" fill="#26a69a"/>
<rect x="614.42" y="815" width="1" height="32" fill="#26a69a" fill-opacity="0.62"/>
<rect x="609.12" y="820" width="11.9" height="14" fill="#26a69a"/>
<rect x="629" y="803" width="1" height="19" fill="#ef5350" fill-opacity="0.62"/>
<rect x="623.7" y="817" width="11.9" height="2" fill="#ef5350"/>
<rect x="643.58" y="768.75" width="1" height="50.5" fill="#26a69a" fill-opacity="0.62"/>
<rect x="638.28" y="796.25" width="11.9" height="23" fill="#26a69a"/>
<rect x="658.17" y="787" width="1" height="77.5" fill="#ef5350" fill-opacity="0.62"/>
<rect x="652.87" y="792" width="11.9" height="8.5" fill="#ef5350"/>
<rect x="672.75" y="775.5" width="1" height="41.5" fill="#26a69a" fill-opacity="0.62"/>
<rect x="667.45" y="782.5" width="11.9" height="23" fill="#26a69a"/>
<rect x="687.33" y="743" width="1" height="46" fill="#26a69a" fill-opacity="0.62"/>
<rect x="682.03" y="748.75" width="11.9" height="38.75" fill="#26a69a"/>
<rect x="701.92" y="735" width="1" height="18" fill="#26a69a" fill-opacity="0.62"/>
<rect x="696.62" y="737.75" width="11.9" height="13" fill="#26a69a"/>
<rect x="716.5" y="715" width="1" height="24" fill="#26a69a" fill-opacity="0.62"/>
<rect x="711.2" y="718" width="11.9" height="19.5" fill="#26a69a"/>
<rect x="731.08" y="676" width="1" height="41" fill="#26a69a" fill-opacity="0.62"/>
<rect x="725.78" y="679" width="11.9" height="38" fill="#26a69a"/>
<rect x="745.67" y="662.5" width="1" height="38.5" fill="#26a69a" fill-opacity="0.62"/>
<rect x="740.37" y="677" width="11.9" height="1" fill="#26a69a"/>
<rect x="760.25" y="667" width="1" height="25.5" fill="#ef5350" fill-opacity="0.62"/>
<rect x="754.95" y="674.5" width="11.9" height="16.5" fill="#ef5350"/>
<rect x="774.83" y="662.5" width="1" height="28.5" fill="#26a69a" fill-opacity="0.62"/>
<rect x="769.53" y="679" width="11.9" height="10" fill="#26a69a"/>
<rect x="789.42" y="674.5" width="1" height="11.5" fill="#ef5350" fill-opacity="0.62"/>
<rect x="784.12" y="677" width="11.9" height="6" fill="#ef5350"/>
<rect x="804" y="671" width="1" height="18" fill="#ef5350" fill-opacity="0.62"/>
<rect x="798.7" y="682.5" width="11.9" height="1.5" fill="#ef5350"/>
<rect x="818.58" y="655" width="1" height="29" fill="#26a69a" fill-opacity="0.62"/>
<rect x="813.28" y="674.5" width="11.9" height="9.5" fill="#26a69a"/>
<rect x="833.16" y="673" width="1" height="30" fill="#ef5350" fill-opacity="0.62"/>
<rect x="827.87" y="673" width="11.9" height="7" fill="#ef5350"/>
<rect x="847.75" y="646" width="1" height="31" fill="#26a69a" fill-opacity="0.62"/>
<rect x="842.45" y="659" width="11.9" height="18" fill="#26a69a"/>
<rect x="862.33" y="646" width="1" height="31.5" fill="#26a69a" fill-opacity="0.62"/>
<rect x="857.03" y="646" width="11.9" height="12" fill="#26a69a"/>
<rect x="876.91" y="609" width="1" height="40" fill="#26a69a" fill-opacity="0.62"/>
<rect x="871.61" y="610.5" width="11.9" height="35" fill="#26a69a"/>
<rect x="891.5" y="602.5" width="1" height="26.5" fill="#ef5350" fill-opacity="0.62"/>
<rect x="886.2" y="609" width="11.9" height="6" fill="#ef5350"/>
<rect x="906.08" y="586" width="1" height="34.5" fill="#26a69a" fill-opacity="0.62"/>
<rect x="900.78" y="591" width="11.9" height="22" fill="#26a69a"/>
<rect x="920.66" y="586" width="1" height="20" fill="#ef5350" fill-opacity="0.62"/>
<rect x="915.36" y="590" width="11.9" height="15" fill="#ef5350"/>
<rect x="935.25" y="567.5" width="1" height="45.5" fill="#26a69a" fill-opacity="0.62"/>
<rect x="929.95" y="568" width="11.9" height="37" fill="#26a69a"/>
<rect x="949.83" y="516.25" width="1" height="53.75" fill="#26a69a" fill-opacity="0.62"/>
<rect x="944.53" y="526.25" width="11.9" height="42" fill="#26a69a"/>
<rect x="964.41" y="523" width="1" height="34.5" fill="#ef5350" fill-opacity="0.62"/>
<rect x="959.11" y="523.75" width="11.9" height="20.75" fill="#ef5350"/>
<rect x="979" y="537" width="1" height="65.5" fill="#ef5350" fill-opacity="0.62"/>
<rect x="973.7" y="541.75" width="11.9" height="34.25" fill="#ef5350"/>
<rect x="993.58" y="559" width="1" height="43.5" fill="#ef5350" fill-opacity="0.62"/>
<rect x="988.28" y="571.75" width="11.9" height="5" fill="#ef5350"/>
<rect x="1008.16" y="547.5" width="1" height="57" fill="#26a69a" fill-opacity="0.62"/>
<rect x="1002.86" y="557" width="11.9" height="20.5" fill="#26a69a"/>
<rect x="1022.75" y="555" width="1" height="70.5" fill="#ef5350" fill-opacity="0.62"/>
<rect x="1017.45" y="556" width="11.9" height="67" fill="#ef5350"/>
<rect x="1037.33" y="607" width="1" height="45.5" fill="#26a69a" fill-opacity="0.62"/>
<rect x="1032.03" y="621.75" width="11.9" height="1.5" fill="#26a69a"/>
<rect x="1051.91" y="613" width="1" height="47.75" fill="#ef5350" fill-opacity="0.62"/>
<rect x="1046.61" y="621.75" width="11.9" height="36.25" fill="#ef5350"/>
<rect x="1066.5" y="626" width="1" height="43.5" fill="#26a69a" fill-opacity="0.62"/>
<rect x="1061.2" y="626" width="11.9" height="34.75" fill="#26a69a"/>
<rect x="1081.08" y="617" width="1" height="42.5" fill="#ef5350" fill-opacity="0.62"/>
<rect x="1075.78" y="626" width="11.9" height="32.75" fill="#ef5350"/>
<rect x="1095.66" y="665" width="1" height="32.5" fill="#ef5350" fill-opacity="0.62"/>
<rect x="1090.36" y="669" width="11.9" height="27" fill="#ef5350"/>
<rect x="1110.25" y="673" width="1" height="42" fill="#26a69a" fill-opacity="0.62"/>
<rect x="1104.95" y="677" width="11.9" height="16" fill="#26a69a"/>
<rect x="1124.83" y="638" width="1" height="46" fill="#26a69a" fill-opacity="0.62"/>
<rect x="1119.53" y="639" width="11.9" height="35" fill="#26a69a"/>
<rect x="1139.41" y="621" width="1" height="51" fill="#ef5350" fill-opacity="0.62"/>
<rect x="1134.11" y="638" width="11.9" height="26" fill="#ef5350"/>
<rect x="1154" y="606" width="1" height="64" fill="#26a69a" fill-opacity="0.62"/>
<rect x="1148.7" y="614" width="11.9" height="48" fill="#26a69a"/>
<rect x="1168.58" y="580.5" width="1" height="32.5" fill="#26a69a" fill-opacity="0.62"/>
<rect x="1163.28" y="585" width="11.9" height="27.5" fill="#26a69a"/>
<rect x="1183.16" y="553" width="1" height="38" fill="#26a69a" fill-opacity="0.62"/>
<rect x="1177.86" y="554" width="11.9" height="31" fill="#26a69a"/>
<rect x="1197.75" y="552.5" width="1" height="11.25" fill="#26a69a" fill-opacity="0.62"/>
<rect x="1192.45" y="554" width="11.9" height="1.75" fill="#26a69a"/>
<rect x="1212.33" y="483" width="1" height="74.5" fill="#26a69a" fill-opacity="0.62"/>
<rect x="1207.03" y="501" width="11.9" height="52.75" fill="#26a69a"/>
<rect x="1226.91" y="475.75" width="1" height="27.25" fill="#26a69a" fill-opacity="0.62"/>
<rect x="1221.61" y="482" width="11.9" height="17" fill="#26a69a"/>
<rect x="1241.5" y="460.5" width="1" height="25.25" fill="#26a69a" fill-opacity="0.62"/>
<rect x="1236.2" y="465" width="11.9" height="16.5" fill="#26a69a"/>
<rect x="1256.08" y="452.5" width="1" height="37.5" fill="#26a69a" fill-opacity="0.62"/>
<rect x="1250.78" y="455.5" width="11.9" height="10.5" fill="#26a69a"/>
<rect x="1270.66" y="454" width="1" height="33" fill="#ef5350" fill-opacity="0.62"/>
<rect x="1265.36" y="454" width="11.9" height="23.5" fill="#ef5350"/>
<rect x="1285.25" y="462" width="1" height="32.5" fill="#ef5350" fill-opacity="0.62"/>
<rect x="1279.95" y="475" width="11.9" height="13.5" fill="#ef5350"/>
<rect x="1299.83" y="451" width="1" height="37.5" fill="#26a69a" fill-opacity="0.62"/>
<rect x="1294.53" y="465" width="11.9" height="23.5" fill="#26a69a"/>
<rect x="1314.41" y="452" width="1" height="19" fill="#26a69a" fill-opacity="0.62"/>
<rect x="1309.11" y="455.75" width="11.9" height="10.25" fill="#26a69a"/>
<rect x="1329" y="412.5" width="1" height="50.5" fill="#26a69a" fill-opacity="0.62"/>
<rect x="1323.7" y="418" width="11.9" height="38.5" fill="#26a69a"/>
<rect x="1343.58" y="368" width="1" height="49" fill="#26a69a" fill-opacity="0.62"/>
<rect x="1338.28" y="375" width="11.9" height="42" fill="#26a69a"/>
<rect x="1358.16" y="339.5" width="1" height="34.25" fill="#26a69a" fill-opacity="0.62"/>
<rect x="1352.86" y="352.5" width="11.9" height="21.25" fill="#26a69a"/>
<rect x="1372.75" y="349.25" width="1" height="32.75" fill="#ef5350" fill-opacity="0.62"/>
<rect x="1367.45" y="352.5" width="11.9" height="8.25" fill="#ef5350"/>
<rect x="1387.33" y="310" width="1" height="60.5" fill="#26a69a" fill-opacity="0.62"/>
<rect x="1382.03" y="319.25" width="11.9" height="43.5" fill="#26a69a"/>
<rect x="1401.91" y="277" width="1" height="38.75" fill="#26a69a" fill-opacity="0.62"/>
<rect x="1396.61" y="299" width="11.9" height="14.25" fill="#26a69a"/>
<rect x="1416.5" y="282" width="1" height="48" fill="#ef5350" fill-opacity="0.62"/>
<rect x="1411.2" y="299" width="11.9" height="9.75" fill="#ef5350"/>
<rect x="1431.08" y="288.25" width="1" height="63.5" fill="#26a69a" fill-opacity="0.62"/>
<rect x="1425.78" y="304.5" width="11.9" height="3.5" fill="#26a69a"/>
<rect x="1445.66" y="293.25" width="1" height="39.75" fill="#26a69a" fill-opacity="0.62"/>
<rect x="1440.36" y="302" width="11.9" height="8" fill="#26a69a"/>
<rect x="1460.25" y="272" width="1" height="38.75" fill="#26a69a" fill-opacity="0.62"/>
<rect x="1454.95" y="286.5" width="11.9" height="15.5" fill="#26a69a"/>
<rect x="1474.83" y="262.5" width="1" height="25.5" fill="#26a69a" fill-opacity="0.62"/>
<rect x="1469.53" y="279.75" width="11.9" height="4.5" fill="#26a69a"/>
<rect x="1489.41" y="270" width="1" height="24.25" fill="#ef5350" fill-opacity="0.62"/>
<rect x="1484.11" y="279" width="11.9" height="6" fill="#ef5350"/>
<rect x="1504" y="262.5" width="1" height="47" fill="#ef5350" fill-opacity="0.62"/>
<rect x="1498.7" y="282" width="11.9" height="22.25" fill="#ef5350"/>
<rect x="1518.58" y="273.25" width="1" height="41" fill="#26a69a" fill-opacity="0.62"/>
<rect x="1513.28" y="297" width="11.9" height="15" fill="#26a69a"/>
<rect x="1533.16" y="299" width="1" height="29.75" fill="#ef5350" fill-opacity="0.62"/>
<rect x="1527.86" y="299" width="11.9" height="22.75" fill="#ef5350"/>
<rect x="1547.75" y="310.75" width="1" height="48.5" fill="#26a69a" fill-opacity="0.62"/>
<rect x="1542.45" y="320" width="11.9" height="1.25" fill="#26a69a"/>
<rect x="1562.33" y="273.25" width="1" height="43.75" fill="#26a69a" fill-opacity="0.62"/>
<rect x="1557.03" y="283.75" width="11.9" height="30.25" fill="#26a69a"/>
<rect x="1576.91" y="256" width="1" height="27.25" fill="#26a69a" fill-opacity="0.62"/>
<rect x="1571.61" y="256.75" width="11.9" height="26.5" fill="#26a69a"/>
<rect x="1591.5" y="231.25" width="1" height="32" fill="#26a69a" fill-opacity="0.62"/>
<rect x="1586.2" y="236.25" width="11.9" height="22.75" fill="#26a69a"/>
<rect x="1606.08" y="230" width="1" height="15.5" fill="#26a69a" fill-opacity="0.62"/>
<rect x="1600.78" y="239.5" width="11.9" height="1" fill="#26a69a"/>
<rect x="1620.66" y="227.5" width="1" height="22.5" fill="#26a69a" fill-opacity="0.62"/>
<rect x="1615.36" y="228.25" width="11.9" height="16.5" fill="#26a69a"/>
</g>
<text x="759.7" y="719.35" font-size="12" fill="rgb(128,128,128)" textLength="50.3" lengthAdjust="spacingAndGlyphs" stroke="rgb(128,128,128)" stroke-width="0.2" stroke-linejoin="round">0 (10.82)</text>
<text x="735.73" y="647.05" font-size="12" fill="rgb(204,40,40)" textLength="74.27" lengthAdjust="spacingAndGlyphs" stroke="rgb(204,40,40)" stroke-width="0.2" stroke-linejoin="round">0.236 (16.46)</text>
<text x="735.73" y="614.25" font-size="12" fill="rgb(149,204,40)" textLength="74.27" lengthAdjust="spacingAndGlyphs" stroke="rgb(149,204,40)" stroke-width="0.2" stroke-linejoin="round">0.382 (19.95)</text>
<text x="748.69" y="592.25" font-size="12" fill="rgb(40,204,40)" textLength="61.31" lengthAdjust="spacingAndGlyphs" stroke="rgb(40,204,40)" stroke-width="0.2" stroke-linejoin="round">0.5 (22.77)</text>
<text x="735.73" y="572.25" font-size="12" fill="rgb(40,204,149)" textLength="74.27" lengthAdjust="spacingAndGlyphs" stroke="rgb(40,204,149)" stroke-width="0.2" stroke-linejoin="round">0.618 (25.59)</text>
<text x="735.73" y="547.25" font-size="12" fill="rgb(40,149,204)" textLength="74.27" lengthAdjust="spacingAndGlyphs" stroke="rgb(40,149,204)" stroke-width="0.2" stroke-linejoin="round">0.786 (29.60)</text>
<text x="759.7" y="520.15" font-size="12" fill="rgb(128,128,128)" textLength="50.3" lengthAdjust="spacingAndGlyphs" stroke="rgb(128,128,128)" stroke-width="0.2" stroke-linejoin="round">1 (34.71)</text>
<text x="735.73" y="459.05" font-size="12" fill="rgb(40,40,204)" textLength="74.27" lengthAdjust="spacingAndGlyphs" stroke="rgb(40,40,204)" stroke-width="0.2" stroke-linejoin="round">1.618 (49.48)</text>
<text x="735.73" y="392.15" font-size="12" fill="rgb(204,40,40)" textLength="74.27" lengthAdjust="spacingAndGlyphs" stroke="rgb(204,40,40)" stroke-width="0.2" stroke-linejoin="round">2.618 (73.37)</text>
<text x="735.73" y="343.35" font-size="12" fill="rgb(149,40,204)" textLength="74.27" lengthAdjust="spacingAndGlyphs" stroke="rgb(149,40,204)" stroke-width="0.2" stroke-linejoin="round">3.618 (97.26)</text>
<text x="729.26" y="319.65" font-size="12" fill="rgb(204,40,149)" textLength="80.74" lengthAdjust="spacingAndGlyphs" stroke="rgb(204,40,149)" stroke-width="0.2" stroke-linejoin="round">4.236 (112.03)</text>
<text x="729.26" y="306.05" font-size="12" fill="rgb(149,204,40)" textLength="80.74" lengthAdjust="spacingAndGlyphs" stroke="rgb(149,204,40)" stroke-width="0.2" stroke-linejoin="round">4.618 (121.15)</text>
<g clip-path="url(#cm)">
<circle cx="250.43" cy="942.2" r="10" fill="#fff" stroke="#fff" stroke-width="3.4"/>
<circle cx="250.43" cy="942.2" r="10" fill="#fff" stroke="#2962ff" stroke-width="1.4"/>
<text x="250.43" y="946.8" font-size="12" fill="#2962ff" font-weight="bold" text-anchor="middle">D</text>
<circle cx="294.18" cy="942.2" r="10" fill="#fff" stroke="#fff" stroke-width="3.4"/>
<circle cx="294.18" cy="942.2" r="10" fill="#fff" stroke="#2962ff" stroke-width="1.4"/>
<text x="294.18" y="946.8" font-size="12" fill="#2962ff" font-weight="bold" text-anchor="middle">D</text>
<circle cx="337.93" cy="942.2" r="10" fill="#fff" stroke="#fff" stroke-width="3.4"/>
<circle cx="337.93" cy="942.2" r="10" fill="#fff" stroke="#2962ff" stroke-width="1.4"/>
<text x="337.93" y="946.8" font-size="12" fill="#2962ff" font-weight="bold" text-anchor="middle">D</text>
<circle cx="381.68" cy="942.2" r="10" fill="#fff" stroke="#fff" stroke-width="3.4"/>
<circle cx="381.68" cy="942.2" r="10" fill="#fff" stroke="#2962ff" stroke-width="1.4"/>
<text x="381.68" y="946.8" font-size="12" fill="#2962ff" font-weight="bold" text-anchor="middle">D</text>
<circle cx="425.43" cy="942.2" r="10" fill="#fff" stroke="#fff" stroke-width="3.4"/>
<circle cx="425.43" cy="942.2" r="10" fill="#fff" stroke="#2962ff" stroke-width="1.4"/>
<text x="425.43" y="946.8" font-size="12" fill="#2962ff" font-weight="bold" text-anchor="middle">D</text>
<circle cx="469.18" cy="942.2" r="10" fill="#fff" stroke="#fff" stroke-width="3.4"/>
<circle cx="469.18" cy="942.2" r="10" fill="#fff" stroke="#2962ff" stroke-width="1.4"/>
<text x="469.18" y="946.8" font-size="12" fill="#2962ff" font-weight="bold" text-anchor="middle">D</text>
<circle cx="512.93" cy="942.2" r="10" fill="#fff" stroke="#fff" stroke-width="3.4"/>
<circle cx="512.93" cy="942.2" r="10" fill="#fff" stroke="#2962ff" stroke-width="1.4"/>
<text x="512.93" y="946.8" font-size="12" fill="#2962ff" font-weight="bold" text-anchor="middle">D</text>
<circle cx="556.68" cy="942.2" r="10" fill="#fff" stroke="#fff" stroke-width="3.4"/>
<circle cx="556.68" cy="942.2" r="10" fill="#fff" stroke="#2962ff" stroke-width="1.4"/>
<text x="556.68" y="946.8" font-size="12" fill="#2962ff" font-weight="bold" text-anchor="middle">D</text>
<circle cx="600.43" cy="942.2" r="10" fill="#fff" stroke="#fff" stroke-width="3.4"/>
<circle cx="600.43" cy="942.2" r="10" fill="#fff" stroke="#2962ff" stroke-width="1.4"/>
<text x="600.43" y="946.8" font-size="12" fill="#2962ff" font-weight="bold" text-anchor="middle">D</text>
<circle cx="644.18" cy="942.2" r="10" fill="#fff" stroke="#fff" stroke-width="3.4"/>
<circle cx="644.18" cy="942.2" r="10" fill="#fff" stroke="#2962ff" stroke-width="1.4"/>
<text x="644.18" y="946.8" font-size="12" fill="#2962ff" font-weight="bold" text-anchor="middle">D</text>
<circle cx="906.68" cy="942.2" r="10" fill="#fff" stroke="#fff" stroke-width="3.4"/>
<circle cx="906.68" cy="942.2" r="10" fill="#fff" stroke="#2962ff" stroke-width="1.4"/>
<text x="906.68" y="946.8" font-size="12" fill="#2962ff" font-weight="bold" text-anchor="middle">D</text>
<circle cx="1125.43" cy="942.2" r="10" fill="#fff" stroke="#fff" stroke-width="3.4"/>
<circle cx="1125.43" cy="942.2" r="10" fill="#fff" stroke="#2962ff" stroke-width="1.4"/>
<text x="1125.43" y="946.8" font-size="12" fill="#2962ff" font-weight="bold" text-anchor="middle">D</text>
<circle cx="1402.51" cy="942.2" r="10" fill="#fff" stroke="#fff" stroke-width="3.4"/>
<circle cx="1402.51" cy="942.2" r="10" fill="#fff" stroke="#2962ff" stroke-width="1.4"/>
<text x="1402.51" y="946.8" font-size="12" fill="#2962ff" font-weight="bold" text-anchor="middle">D</text>
<circle cx="31.68" cy="968" r="10" fill="#fff" stroke="#fff" stroke-width="3.4"/>
<circle cx="31.68" cy="968" r="10" fill="#fff" stroke="#2962ff" stroke-width="1.4"/>
<text x="31.68" y="972.6" font-size="12" fill="#2962ff" font-weight="bold" text-anchor="middle">D</text>
<circle cx="75.43" cy="968" r="10" fill="#fff" stroke="#fff" stroke-width="3.4"/>
<circle cx="75.43" cy="968" r="10" fill="#fff" stroke="#2962ff" stroke-width="1.4"/>
<text x="75.43" y="972.6" font-size="12" fill="#2962ff" font-weight="bold" text-anchor="middle">D</text>
<circle cx="119.18" cy="968" r="10" fill="#fff" stroke="#fff" stroke-width="3.4"/>
<circle cx="119.18" cy="968" r="10" fill="#fff" stroke="#2962ff" stroke-width="1.4"/>
<text x="119.18" y="972.6" font-size="12" fill="#2962ff" font-weight="bold" text-anchor="middle">D</text>
<circle cx="162.93" cy="968" r="10" fill="#fff" stroke="#fff" stroke-width="3.4"/>
<circle cx="162.93" cy="968" r="10" fill="#fff" stroke="#2962ff" stroke-width="1.4"/>
<text x="162.93" y="972.6" font-size="12" fill="#2962ff" font-weight="bold" text-anchor="middle">D</text>
<circle cx="206.68" cy="968" r="10" fill="#fff" stroke="#fff" stroke-width="3.4"/>
<circle cx="206.68" cy="968" r="10" fill="#fff" stroke="#2962ff" stroke-width="1.4"/>
<text x="206.68" y="972.6" font-size="12" fill="#2962ff" font-weight="bold" text-anchor="middle">D</text>
<circle cx="702.52" cy="968" r="10" fill="#fff" stroke="#fff" stroke-width="3.4"/>
<circle cx="702.52" cy="968" r="10" fill="#fff" stroke="#2962ff" stroke-width="1.4"/>
<text x="702.52" y="972.6" font-size="12" fill="#2962ff" font-weight="bold" text-anchor="middle">D</text>
<circle cx="746.27" cy="968" r="10" fill="#fff" stroke="#fff" stroke-width="3.4"/>
<circle cx="746.27" cy="968" r="10" fill="#fff" stroke="#2962ff" stroke-width="1.4"/>
<text x="746.27" y="972.6" font-size="12" fill="#2962ff" font-weight="bold" text-anchor="middle">D</text>
<circle cx="790.02" cy="968" r="10" fill="#fff" stroke="#fff" stroke-width="3.4"/>
<circle cx="790.02" cy="968" r="10" fill="#fff" stroke="#2962ff" stroke-width="1.4"/>
<text x="790.02" y="972.6" font-size="12" fill="#2962ff" font-weight="bold" text-anchor="middle">D</text>
<circle cx="833.76" cy="968" r="10" fill="#fff" stroke="#fff" stroke-width="3.4"/>
<circle cx="833.76" cy="968" r="10" fill="#fff" stroke="#2962ff" stroke-width="1.4"/>
<text x="833.76" y="972.6" font-size="12" fill="#2962ff" font-weight="bold" text-anchor="middle">D</text>
<circle cx="877.51" cy="968" r="10" fill="#fff" stroke="#fff" stroke-width="3.4"/>
<circle cx="877.51" cy="968" r="10" fill="#fff" stroke="#2962ff" stroke-width="1.4"/>
<text x="877.51" y="972.6" font-size="12" fill="#2962ff" font-weight="bold" text-anchor="middle">D</text>
<circle cx="965.01" cy="968" r="10" fill="#fff" stroke="#fff" stroke-width="3.4"/>
<circle cx="965.01" cy="968" r="10" fill="#fff" stroke="#2962ff" stroke-width="1.4"/>
<text x="965.01" y="972.6" font-size="12" fill="#2962ff" font-weight="bold" text-anchor="middle">D</text>
<circle cx="1008.76" cy="968" r="10" fill="#fff" stroke="#fff" stroke-width="3.4"/>
<circle cx="1008.76" cy="968" r="10" fill="#fff" stroke="#2962ff" stroke-width="1.4"/>
<text x="1008.76" y="972.6" font-size="12" fill="#2962ff" font-weight="bold" text-anchor="middle">D</text>
<circle cx="1052.51" cy="968" r="10" fill="#fff" stroke="#fff" stroke-width="3.4"/>
<circle cx="1052.51" cy="968" r="10" fill="#fff" stroke="#2962ff" stroke-width="1.4"/>
<text x="1052.51" y="972.6" font-size="12" fill="#2962ff" font-weight="bold" text-anchor="middle">D</text>
<circle cx="1096.26" cy="968" r="10" fill="#fff" stroke="#fff" stroke-width="3.4"/>
<circle cx="1096.26" cy="968" r="10" fill="#fff" stroke="#2962ff" stroke-width="1.4"/>
<text x="1096.26" y="972.6" font-size="12" fill="#2962ff" font-weight="bold" text-anchor="middle">D</text>
<circle cx="1183.76" cy="968" r="10" fill="#fff" stroke="#fff" stroke-width="3.4"/>
<circle cx="1183.76" cy="968" r="10" fill="#fff" stroke="#2962ff" stroke-width="1.4"/>
<text x="1183.76" y="972.6" font-size="12" fill="#2962ff" font-weight="bold" text-anchor="middle">D</text>
<circle cx="1227.51" cy="968" r="10" fill="#fff" stroke="#fff" stroke-width="3.4"/>
<circle cx="1227.51" cy="968" r="10" fill="#fff" stroke="#2962ff" stroke-width="1.4"/>
<text x="1227.51" y="972.6" font-size="12" fill="#2962ff" font-weight="bold" text-anchor="middle">D</text>
<circle cx="1271.26" cy="968" r="10" fill="#fff" stroke="#fff" stroke-width="3.4"/>
<circle cx="1271.26" cy="968" r="10" fill="#fff" stroke="#2962ff" stroke-width="1.4"/>
<text x="1271.26" y="972.6" font-size="12" fill="#2962ff" font-weight="bold" text-anchor="middle">D</text>
<circle cx="1315.01" cy="968" r="10" fill="#fff" stroke="#fff" stroke-width="3.4"/>
<circle cx="1315.01" cy="968" r="10" fill="#fff" stroke="#2962ff" stroke-width="1.4"/>
<text x="1315.01" y="972.6" font-size="12" fill="#2962ff" font-weight="bold" text-anchor="middle">D</text>
<circle cx="1358.76" cy="968" r="10" fill="#fff" stroke="#fff" stroke-width="3.4"/>
<circle cx="1358.76" cy="968" r="10" fill="#fff" stroke="#2962ff" stroke-width="1.4"/>
<text x="1358.76" y="972.6" font-size="12" fill="#2962ff" font-weight="bold" text-anchor="middle">D</text>
<circle cx="1446.26" cy="968" r="10" fill="#fff" stroke="#fff" stroke-width="3.4"/>
<circle cx="1446.26" cy="968" r="10" fill="#fff" stroke="#2962ff" stroke-width="1.4"/>
<text x="1446.26" y="972.6" font-size="12" fill="#2962ff" font-weight="bold" text-anchor="middle">D</text>
<circle cx="1490.01" cy="968" r="10" fill="#fff" stroke="#fff" stroke-width="3.4"/>
<circle cx="1490.01" cy="968" r="10" fill="#fff" stroke="#2962ff" stroke-width="1.4"/>
<text x="1490.01" y="972.6" font-size="12" fill="#2962ff" font-weight="bold" text-anchor="middle">D</text>
<circle cx="1533.76" cy="968" r="10" fill="#fff" stroke="#fff" stroke-width="3.4"/>
<circle cx="1533.76" cy="968" r="10" fill="#fff" stroke="#2962ff" stroke-width="1.4"/>
<text x="1533.76" y="972.6" font-size="12" fill="#2962ff" font-weight="bold" text-anchor="middle">D</text>
<circle cx="1577.51" cy="968" r="10" fill="#fff" stroke="#fff" stroke-width="3.4"/>
<circle cx="1577.51" cy="968" r="10" fill="#fff" stroke="#2962ff" stroke-width="1.4"/>
<text x="1577.51" y="972.6" font-size="12" fill="#2962ff" font-weight="bold" text-anchor="middle">D</text>
<circle cx="1621.26" cy="968" r="10" fill="#fff" stroke="#fff" stroke-width="3.4"/>
<circle cx="1621.26" cy="968" r="10" fill="#fff" stroke="#2962ff" stroke-width="1.4"/>
<text x="1621.26" y="972.6" font-size="12" fill="#2962ff" font-weight="bold" text-anchor="middle">D</text>
<circle cx="892.1" cy="968" r="10" fill="#fff" stroke="#fff" stroke-width="3.4"/>
<circle cx="892.1" cy="968" r="10" fill="#fff" stroke="#ff9800" stroke-width="1.4"/>
<text x="892.1" y="972.6" font-size="12" fill="#ff9800" font-weight="bold" text-anchor="middle">S</text>
<circle cx="1402.51" cy="968" r="10" fill="#fff" stroke="#fff" stroke-width="3.4"/>
<circle cx="1402.51" cy="968" r="10" fill="#fff" stroke="#ff9800" stroke-width="1.4"/>
<text x="1402.51" y="972.6" font-size="12" fill="#ff9800" font-weight="bold" text-anchor="middle">S</text>
<path d="M250.43,957.6 L259.53,963.1 V975.5 a2.2,2.2 0 0 1 -2.2,2.2 H243.53 a2.2,2.2 0 0 1 -2.2,-2.2 V963.1 Z" fill="#fff" stroke="#fff" stroke-width="3.6" stroke-linejoin="round"/>
<path d="M250.43,957.6 L259.53,963.1 V975.5 a2.2,2.2 0 0 1 -2.2,2.2 H243.53 a2.2,2.2 0 0 1 -2.2,-2.2 V963.1 Z" fill="#fff" stroke="#089981" stroke-width="1.4" stroke-linejoin="round"/>
<text x="250.43" y="972.9" font-size="12" fill="#089981" font-weight="bold" text-anchor="middle">E</text>
<path d="M294.18,957.6 L303.28,963.1 V975.5 a2.2,2.2 0 0 1 -2.2,2.2 H287.28 a2.2,2.2 0 0 1 -2.2,-2.2 V963.1 Z" fill="#fff" stroke="#fff" stroke-width="3.6" stroke-linejoin="round"/>
<path d="M294.18,957.6 L303.28,963.1 V975.5 a2.2,2.2 0 0 1 -2.2,2.2 H287.28 a2.2,2.2 0 0 1 -2.2,-2.2 V963.1 Z" fill="#fff" stroke="#089981" stroke-width="1.4" stroke-linejoin="round"/>
<text x="294.18" y="972.9" font-size="12" fill="#089981" font-weight="bold" text-anchor="middle">E</text>
<path d="M337.93,957.6 L347.03,963.1 V975.5 a2.2,2.2 0 0 1 -2.2,2.2 H331.03 a2.2,2.2 0 0 1 -2.2,-2.2 V963.1 Z" fill="#fff" stroke="#fff" stroke-width="3.6" stroke-linejoin="round"/>
<path d="M337.93,957.6 L347.03,963.1 V975.5 a2.2,2.2 0 0 1 -2.2,2.2 H331.03 a2.2,2.2 0 0 1 -2.2,-2.2 V963.1 Z" fill="#fff" stroke="#089981" stroke-width="1.4" stroke-linejoin="round"/>
<text x="337.93" y="972.9" font-size="12" fill="#089981" font-weight="bold" text-anchor="middle">E</text>
<path d="M381.68,957.6 L390.78,963.1 V975.5 a2.2,2.2 0 0 1 -2.2,2.2 H374.78 a2.2,2.2 0 0 1 -2.2,-2.2 V963.1 Z" fill="#fff" stroke="#fff" stroke-width="3.6" stroke-linejoin="round"/>
<path d="M381.68,957.6 L390.78,963.1 V975.5 a2.2,2.2 0 0 1 -2.2,2.2 H374.78 a2.2,2.2 0 0 1 -2.2,-2.2 V963.1 Z" fill="#fff" stroke="#089981" stroke-width="1.4" stroke-linejoin="round"/>
<text x="381.68" y="972.9" font-size="12" fill="#089981" font-weight="bold" text-anchor="middle">E</text>
<path d="M425.43,957.6 L434.53,963.1 V975.5 a2.2,2.2 0 0 1 -2.2,2.2 H418.53 a2.2,2.2 0 0 1 -2.2,-2.2 V963.1 Z" fill="#fff" stroke="#fff" stroke-width="3.6" stroke-linejoin="round"/>
<path d="M425.43,957.6 L434.53,963.1 V975.5 a2.2,2.2 0 0 1 -2.2,2.2 H418.53 a2.2,2.2 0 0 1 -2.2,-2.2 V963.1 Z" fill="#fff" stroke="#089981" stroke-width="1.4" stroke-linejoin="round"/>
<text x="425.43" y="972.9" font-size="12" fill="#089981" font-weight="bold" text-anchor="middle">E</text>
<path d="M469.18,957.6 L478.28,963.1 V975.5 a2.2,2.2 0 0 1 -2.2,2.2 H462.28 a2.2,2.2 0 0 1 -2.2,-2.2 V963.1 Z" fill="#fff" stroke="#fff" stroke-width="3.6" stroke-linejoin="round"/>
<path d="M469.18,957.6 L478.28,963.1 V975.5 a2.2,2.2 0 0 1 -2.2,2.2 H462.28 a2.2,2.2 0 0 1 -2.2,-2.2 V963.1 Z" fill="#fff" stroke="#089981" stroke-width="1.4" stroke-linejoin="round"/>
<text x="469.18" y="972.9" font-size="12" fill="#089981" font-weight="bold" text-anchor="middle">E</text>
<path d="M512.93,957.6 L522.03,963.1 V975.5 a2.2,2.2 0 0 1 -2.2,2.2 H506.03 a2.2,2.2 0 0 1 -2.2,-2.2 V963.1 Z" fill="#fff" stroke="#fff" stroke-width="3.6" stroke-linejoin="round"/>
<path d="M512.93,957.6 L522.03,963.1 V975.5 a2.2,2.2 0 0 1 -2.2,2.2 H506.03 a2.2,2.2 0 0 1 -2.2,-2.2 V963.1 Z" fill="#fff" stroke="#089981" stroke-width="1.4" stroke-linejoin="round"/>
<text x="512.93" y="972.9" font-size="12" fill="#089981" font-weight="bold" text-anchor="middle">E</text>
<path d="M556.68,957.6 L565.78,963.1 V975.5 a2.2,2.2 0 0 1 -2.2,2.2 H549.78 a2.2,2.2 0 0 1 -2.2,-2.2 V963.1 Z" fill="#fff" stroke="#fff" stroke-width="3.6" stroke-linejoin="round"/>
<path d="M556.68,957.6 L565.78,963.1 V975.5 a2.2,2.2 0 0 1 -2.2,2.2 H549.78 a2.2,2.2 0 0 1 -2.2,-2.2 V963.1 Z" fill="#fff" stroke="#089981" stroke-width="1.4" stroke-linejoin="round"/>
<text x="556.68" y="972.9" font-size="12" fill="#089981" font-weight="bold" text-anchor="middle">E</text>
<path d="M600.43,957.6 L609.53,963.1 V975.5 a2.2,2.2 0 0 1 -2.2,2.2 H593.53 a2.2,2.2 0 0 1 -2.2,-2.2 V963.1 Z" fill="#fff" stroke="#fff" stroke-width="3.6" stroke-linejoin="round"/>
<path d="M600.43,957.6 L609.53,963.1 V975.5 a2.2,2.2 0 0 1 -2.2,2.2 H593.53 a2.2,2.2 0 0 1 -2.2,-2.2 V963.1 Z" fill="#fff" stroke="#089981" stroke-width="1.4" stroke-linejoin="round"/>
<text x="600.43" y="972.9" font-size="12" fill="#089981" font-weight="bold" text-anchor="middle">E</text>
<path d="M644.18,957.6 L653.28,963.1 V975.5 a2.2,2.2 0 0 1 -2.2,2.2 H637.28 a2.2,2.2 0 0 1 -2.2,-2.2 V963.1 Z" fill="#fff" stroke="#fff" stroke-width="3.6" stroke-linejoin="round"/>
<path d="M644.18,957.6 L653.28,963.1 V975.5 a2.2,2.2 0 0 1 -2.2,2.2 H637.28 a2.2,2.2 0 0 1 -2.2,-2.2 V963.1 Z" fill="#fff" stroke="#089981" stroke-width="1.4" stroke-linejoin="round"/>
<text x="644.18" y="972.9" font-size="12" fill="#089981" font-weight="bold" text-anchor="middle">E</text>
<path d="M687.93,957.6 L697.03,963.1 V975.5 a2.2,2.2 0 0 1 -2.2,2.2 H681.03 a2.2,2.2 0 0 1 -2.2,-2.2 V963.1 Z" fill="#fff" stroke="#fff" stroke-width="3.6" stroke-linejoin="round"/>
<path d="M687.93,957.6 L697.03,963.1 V975.5 a2.2,2.2 0 0 1 -2.2,2.2 H681.03 a2.2,2.2 0 0 1 -2.2,-2.2 V963.1 Z" fill="#fff" stroke="#089981" stroke-width="1.4" stroke-linejoin="round"/>
<text x="687.93" y="972.9" font-size="12" fill="#089981" font-weight="bold" text-anchor="middle">E</text>
<path d="M731.68,957.6 L740.78,963.1 V975.5 a2.2,2.2 0 0 1 -2.2,2.2 H724.78 a2.2,2.2 0 0 1 -2.2,-2.2 V963.1 Z" fill="#fff" stroke="#fff" stroke-width="3.6" stroke-linejoin="round"/>
<path d="M731.68,957.6 L740.78,963.1 V975.5 a2.2,2.2 0 0 1 -2.2,2.2 H724.78 a2.2,2.2 0 0 1 -2.2,-2.2 V963.1 Z" fill="#fff" stroke="#089981" stroke-width="1.4" stroke-linejoin="round"/>
<text x="731.68" y="972.9" font-size="12" fill="#089981" font-weight="bold" text-anchor="middle">E</text>
<path d="M775.43,957.6 L784.53,963.1 V975.5 a2.2,2.2 0 0 1 -2.2,2.2 H768.53 a2.2,2.2 0 0 1 -2.2,-2.2 V963.1 Z" fill="#fff" stroke="#fff" stroke-width="3.6" stroke-linejoin="round"/>
<path d="M775.43,957.6 L784.53,963.1 V975.5 a2.2,2.2 0 0 1 -2.2,2.2 H768.53 a2.2,2.2 0 0 1 -2.2,-2.2 V963.1 Z" fill="#fff" stroke="#089981" stroke-width="1.4" stroke-linejoin="round"/>
<text x="775.43" y="972.9" font-size="12" fill="#089981" font-weight="bold" text-anchor="middle">E</text>
<path d="M819.18,957.6 L828.28,963.1 V975.5 a2.2,2.2 0 0 1 -2.2,2.2 H812.28 a2.2,2.2 0 0 1 -2.2,-2.2 V963.1 Z" fill="#fff" stroke="#fff" stroke-width="3.6" stroke-linejoin="round"/>
<path d="M819.18,957.6 L828.28,963.1 V975.5 a2.2,2.2 0 0 1 -2.2,2.2 H812.28 a2.2,2.2 0 0 1 -2.2,-2.2 V963.1 Z" fill="#fff" stroke="#089981" stroke-width="1.4" stroke-linejoin="round"/>
<text x="819.18" y="972.9" font-size="12" fill="#089981" font-weight="bold" text-anchor="middle">E</text>
<path d="M862.93,957.6 L872.03,963.1 V975.5 a2.2,2.2 0 0 1 -2.2,2.2 H856.03 a2.2,2.2 0 0 1 -2.2,-2.2 V963.1 Z" fill="#fff" stroke="#fff" stroke-width="3.6" stroke-linejoin="round"/>
<path d="M862.93,957.6 L872.03,963.1 V975.5 a2.2,2.2 0 0 1 -2.2,2.2 H856.03 a2.2,2.2 0 0 1 -2.2,-2.2 V963.1 Z" fill="#fff" stroke="#089981" stroke-width="1.4" stroke-linejoin="round"/>
<text x="862.93" y="972.9" font-size="12" fill="#089981" font-weight="bold" text-anchor="middle">E</text>
<path d="M906.68,957.6 L915.78,963.1 V975.5 a2.2,2.2 0 0 1 -2.2,2.2 H899.78 a2.2,2.2 0 0 1 -2.2,-2.2 V963.1 Z" fill="#fff" stroke="#fff" stroke-width="3.6" stroke-linejoin="round"/>
<path d="M906.68,957.6 L915.78,963.1 V975.5 a2.2,2.2 0 0 1 -2.2,2.2 H899.78 a2.2,2.2 0 0 1 -2.2,-2.2 V963.1 Z" fill="#fff" stroke="#089981" stroke-width="1.4" stroke-linejoin="round"/>
<text x="906.68" y="972.9" font-size="12" fill="#089981" font-weight="bold" text-anchor="middle">E</text>
<path d="M950.43,957.6 L959.53,963.1 V975.5 a2.2,2.2 0 0 1 -2.2,2.2 H943.53 a2.2,2.2 0 0 1 -2.2,-2.2 V963.1 Z" fill="#fff" stroke="#fff" stroke-width="3.6" stroke-linejoin="round"/>
<path d="M950.43,957.6 L959.53,963.1 V975.5 a2.2,2.2 0 0 1 -2.2,2.2 H943.53 a2.2,2.2 0 0 1 -2.2,-2.2 V963.1 Z" fill="#fff" stroke="#089981" stroke-width="1.4" stroke-linejoin="round"/>
<text x="950.43" y="972.9" font-size="12" fill="#089981" font-weight="bold" text-anchor="middle">E</text>
<path d="M994.18,957.6 L1003.28,963.1 V975.5 a2.2,2.2 0 0 1 -2.2,2.2 H987.28 a2.2,2.2 0 0 1 -2.2,-2.2 V963.1 Z" fill="#fff" stroke="#fff" stroke-width="3.6" stroke-linejoin="round"/>
<path d="M994.18,957.6 L1003.28,963.1 V975.5 a2.2,2.2 0 0 1 -2.2,2.2 H987.28 a2.2,2.2 0 0 1 -2.2,-2.2 V963.1 Z" fill="#fff" stroke="#089981" stroke-width="1.4" stroke-linejoin="round"/>
<text x="994.18" y="972.9" font-size="12" fill="#089981" font-weight="bold" text-anchor="middle">E</text>
<path d="M1037.93,957.6 L1047.03,963.1 V975.5 a2.2,2.2 0 0 1 -2.2,2.2 H1031.03 a2.2,2.2 0 0 1 -2.2,-2.2 V963.1 Z" fill="#fff" stroke="#fff" stroke-width="3.6" stroke-linejoin="round"/>
<path d="M1037.93,957.6 L1047.03,963.1 V975.5 a2.2,2.2 0 0 1 -2.2,2.2 H1031.03 a2.2,2.2 0 0 1 -2.2,-2.2 V963.1 Z" fill="#fff" stroke="#089981" stroke-width="1.4" stroke-linejoin="round"/>
<text x="1037.93" y="972.9" font-size="12" fill="#089981" font-weight="bold" text-anchor="middle">E</text>
<path d="M1081.68,957.6 L1090.78,963.1 V975.5 a2.2,2.2 0 0 1 -2.2,2.2 H1074.78 a2.2,2.2 0 0 1 -2.2,-2.2 V963.1 Z" fill="#fff" stroke="#fff" stroke-width="3.6" stroke-linejoin="round"/>
<path d="M1081.68,957.6 L1090.78,963.1 V975.5 a2.2,2.2 0 0 1 -2.2,2.2 H1074.78 a2.2,2.2 0 0 1 -2.2,-2.2 V963.1 Z" fill="#fff" stroke="#089981" stroke-width="1.4" stroke-linejoin="round"/>
<text x="1081.68" y="972.9" font-size="12" fill="#089981" font-weight="bold" text-anchor="middle">E</text>
<path d="M1125.43,979.4 L1134.53,973.9 V961.5 a2.2,2.2 0 0 0 -2.2,-2.2 H1118.53 a2.2,2.2 0 0 0 -2.2,2.2 V973.9 Z" fill="#fff" stroke="#fff" stroke-width="3.6" stroke-linejoin="round"/>
<path d="M1125.43,979.4 L1134.53,973.9 V961.5 a2.2,2.2 0 0 0 -2.2,-2.2 H1118.53 a2.2,2.2 0 0 0 -2.2,2.2 V973.9 Z" fill="#fff" stroke="#f23645" stroke-width="1.4" stroke-linejoin="round"/>
<text x="1125.43" y="973" font-size="12" fill="#f23645" font-weight="bold" text-anchor="middle">E</text>
<path d="M1169.18,957.6 L1178.28,963.1 V975.5 a2.2,2.2 0 0 1 -2.2,2.2 H1162.28 a2.2,2.2 0 0 1 -2.2,-2.2 V963.1 Z" fill="#fff" stroke="#fff" stroke-width="3.6" stroke-linejoin="round"/>
<path d="M1169.18,957.6 L1178.28,963.1 V975.5 a2.2,2.2 0 0 1 -2.2,2.2 H1162.28 a2.2,2.2 0 0 1 -2.2,-2.2 V963.1 Z" fill="#fff" stroke="#089981" stroke-width="1.4" stroke-linejoin="round"/>
<text x="1169.18" y="972.9" font-size="12" fill="#089981" font-weight="bold" text-anchor="middle">E</text>
<path d="M1212.93,957.6 L1222.03,963.1 V975.5 a2.2,2.2 0 0 1 -2.2,2.2 H1206.03 a2.2,2.2 0 0 1 -2.2,-2.2 V963.1 Z" fill="#fff" stroke="#fff" stroke-width="3.6" stroke-linejoin="round"/>
<path d="M1212.93,957.6 L1222.03,963.1 V975.5 a2.2,2.2 0 0 1 -2.2,2.2 H1206.03 a2.2,2.2 0 0 1 -2.2,-2.2 V963.1 Z" fill="#fff" stroke="#089981" stroke-width="1.4" stroke-linejoin="round"/>
<text x="1212.93" y="972.9" font-size="12" fill="#089981" font-weight="bold" text-anchor="middle">E</text>
<path d="M1256.68,957.6 L1265.78,963.1 V975.5 a2.2,2.2 0 0 1 -2.2,2.2 H1249.78 a2.2,2.2 0 0 1 -2.2,-2.2 V963.1 Z" fill="#fff" stroke="#fff" stroke-width="3.6" stroke-linejoin="round"/>
<path d="M1256.68,957.6 L1265.78,963.1 V975.5 a2.2,2.2 0 0 1 -2.2,2.2 H1249.78 a2.2,2.2 0 0 1 -2.2,-2.2 V963.1 Z" fill="#fff" stroke="#089981" stroke-width="1.4" stroke-linejoin="round"/>
<text x="1256.68" y="972.9" font-size="12" fill="#089981" font-weight="bold" text-anchor="middle">E</text>
<path d="M1300.43,957.6 L1309.53,963.1 V975.5 a2.2,2.2 0 0 1 -2.2,2.2 H1293.53 a2.2,2.2 0 0 1 -2.2,-2.2 V963.1 Z" fill="#fff" stroke="#fff" stroke-width="3.6" stroke-linejoin="round"/>
<path d="M1300.43,957.6 L1309.53,963.1 V975.5 a2.2,2.2 0 0 1 -2.2,2.2 H1293.53 a2.2,2.2 0 0 1 -2.2,-2.2 V963.1 Z" fill="#fff" stroke="#089981" stroke-width="1.4" stroke-linejoin="round"/>
<text x="1300.43" y="972.9" font-size="12" fill="#089981" font-weight="bold" text-anchor="middle">E</text>
<path d="M1344.18,957.6 L1353.28,963.1 V975.5 a2.2,2.2 0 0 1 -2.2,2.2 H1337.28 a2.2,2.2 0 0 1 -2.2,-2.2 V963.1 Z" fill="#fff" stroke="#fff" stroke-width="3.6" stroke-linejoin="round"/>
<path d="M1344.18,957.6 L1353.28,963.1 V975.5 a2.2,2.2 0 0 1 -2.2,2.2 H1337.28 a2.2,2.2 0 0 1 -2.2,-2.2 V963.1 Z" fill="#fff" stroke="#089981" stroke-width="1.4" stroke-linejoin="round"/>
<text x="1344.18" y="972.9" font-size="12" fill="#089981" font-weight="bold" text-anchor="middle">E</text>
<path d="M1387.93,957.6 L1397.03,963.1 V975.5 a2.2,2.2 0 0 1 -2.2,2.2 H1381.03 a2.2,2.2 0 0 1 -2.2,-2.2 V963.1 Z" fill="#fff" stroke="#fff" stroke-width="3.6" stroke-linejoin="round"/>
<path d="M1387.93,957.6 L1397.03,963.1 V975.5 a2.2,2.2 0 0 1 -2.2,2.2 H1381.03 a2.2,2.2 0 0 1 -2.2,-2.2 V963.1 Z" fill="#fff" stroke="#089981" stroke-width="1.4" stroke-linejoin="round"/>
<text x="1387.93" y="972.9" font-size="12" fill="#089981" font-weight="bold" text-anchor="middle">E</text>
<path d="M1431.68,957.6 L1440.78,963.1 V975.5 a2.2,2.2 0 0 1 -2.2,2.2 H1424.78 a2.2,2.2 0 0 1 -2.2,-2.2 V963.1 Z" fill="#fff" stroke="#fff" stroke-width="3.6" stroke-linejoin="round"/>
<path d="M1431.68,957.6 L1440.78,963.1 V975.5 a2.2,2.2 0 0 1 -2.2,2.2 H1424.78 a2.2,2.2 0 0 1 -2.2,-2.2 V963.1 Z" fill="#fff" stroke="#089981" stroke-width="1.4" stroke-linejoin="round"/>
<text x="1431.68" y="972.9" font-size="12" fill="#089981" font-weight="bold" text-anchor="middle">E</text>
<path d="M1475.43,957.6 L1484.53,963.1 V975.5 a2.2,2.2 0 0 1 -2.2,2.2 H1468.53 a2.2,2.2 0 0 1 -2.2,-2.2 V963.1 Z" fill="#fff" stroke="#fff" stroke-width="3.6" stroke-linejoin="round"/>
<path d="M1475.43,957.6 L1484.53,963.1 V975.5 a2.2,2.2 0 0 1 -2.2,2.2 H1468.53 a2.2,2.2 0 0 1 -2.2,-2.2 V963.1 Z" fill="#fff" stroke="#089981" stroke-width="1.4" stroke-linejoin="round"/>
<text x="1475.43" y="972.9" font-size="12" fill="#089981" font-weight="bold" text-anchor="middle">E</text>
<path d="M1519.18,957.6 L1528.28,963.1 V975.5 a2.2,2.2 0 0 1 -2.2,2.2 H1512.28 a2.2,2.2 0 0 1 -2.2,-2.2 V963.1 Z" fill="#fff" stroke="#fff" stroke-width="3.6" stroke-linejoin="round"/>
<path d="M1519.18,957.6 L1528.28,963.1 V975.5 a2.2,2.2 0 0 1 -2.2,2.2 H1512.28 a2.2,2.2 0 0 1 -2.2,-2.2 V963.1 Z" fill="#fff" stroke="#089981" stroke-width="1.4" stroke-linejoin="round"/>
<text x="1519.18" y="972.9" font-size="12" fill="#089981" font-weight="bold" text-anchor="middle">E</text>
<path d="M1562.93,957.6 L1572.03,963.1 V975.5 a2.2,2.2 0 0 1 -2.2,2.2 H1556.03 a2.2,2.2 0 0 1 -2.2,-2.2 V963.1 Z" fill="#fff" stroke="#fff" stroke-width="3.6" stroke-linejoin="round"/>
<path d="M1562.93,957.6 L1572.03,963.1 V975.5 a2.2,2.2 0 0 1 -2.2,2.2 H1556.03 a2.2,2.2 0 0 1 -2.2,-2.2 V963.1 Z" fill="#fff" stroke="#089981" stroke-width="1.4" stroke-linejoin="round"/>
<text x="1562.93" y="972.9" font-size="12" fill="#089981" font-weight="bold" text-anchor="middle">E</text>
<path d="M1606.68,957.6 L1615.78,963.1 V975.5 a2.2,2.2 0 0 1 -2.2,2.2 H1599.78 a2.2,2.2 0 0 1 -2.2,-2.2 V963.1 Z" fill="#fff" stroke="#fff" stroke-width="3.6" stroke-linejoin="round"/>
<path d="M1606.68,957.6 L1615.78,963.1 V975.5 a2.2,2.2 0 0 1 -2.2,2.2 H1599.78 a2.2,2.2 0 0 1 -2.2,-2.2 V963.1 Z" fill="#fff" stroke="#089981" stroke-width="1.4" stroke-linejoin="round"/>
<text x="1606.68" y="972.9" font-size="12" fill="#089981" font-weight="bold" text-anchor="middle">E</text>
<rect x="1641.1" y="958.9" width="17.8" height="17.8" rx="2.4" fill="#fff" stroke="#e040fb" stroke-width="1.5"/>
<text x="1650" y="972.6" font-size="12" fill="#e040fb" font-weight="bold" text-anchor="middle">E</text>
<g fill="none" stroke="#9c27b0" stroke-width="1.4" stroke-linecap="round">
<path d="M1611.4,938.3 A10,10 0 0 1 1624,932.4"/>
<path d="M1630.6,939.3 A10,10 0 0 1 1613.6,949.3"/>
</g>
<path d="M1624.2,937 L1617,943.6 L1621,943.6 L1617.6,948.2 L1625,942 L1621,942 Z" fill="#9c27b0"/>
<path d="M1609.7,940.6 Q1610.4,945.3 1615,946 Q1610.4,946.7 1609.7,951.4 Q1609,946.7 1604.4,946 Q1609,945.3 1609.7,940.6 Z" fill="#7c4dff"/>
<circle cx="1628" cy="935.1" r="2.7" fill="#f23645"/>
</g>
<rect x="0" y="982" width="2560" height="1.3" fill="#e0e3eb"/>
<rect x="0" y="1141.3" width="2560" height="1.2" fill="#eceef3"/>
<rect x="2497" y="2" width="63" height="980" fill="#fff"/>
<rect x="2497" y="983.3" width="63" height="158" fill="#fff"/>
<rect x="2497" y="1142.5" width="63" height="56.5" fill="#fff"/>
<text x="2507.7" y="47.84" font-size="12" fill="#131722" textLength="37" lengthAdjust="spacingAndGlyphs" stroke="#131722" stroke-width="0.2" stroke-linejoin="round">550.00</text>
<text x="2507.7" y="82.17" font-size="12" fill="#131722" textLength="37" lengthAdjust="spacingAndGlyphs" stroke="#131722" stroke-width="0.2" stroke-linejoin="round">450.00</text>
<text x="2507.7" y="115.66" font-size="12" fill="#131722" textLength="37" lengthAdjust="spacingAndGlyphs" stroke="#131722" stroke-width="0.2" stroke-linejoin="round">370.00</text>
<text x="2507.7" y="157.35" font-size="12" fill="#131722" textLength="37" lengthAdjust="spacingAndGlyphs" stroke="#131722" stroke-width="0.2" stroke-linejoin="round">290.00</text>
<text x="2507.7" y="189.73" font-size="12" fill="#131722" textLength="37" lengthAdjust="spacingAndGlyphs" stroke="#131722" stroke-width="0.2" stroke-linejoin="round">240.00</text>
<text x="2507.7" y="308.32" font-size="12" fill="#131722" textLength="37" lengthAdjust="spacingAndGlyphs" stroke="#131722" stroke-width="0.2" stroke-linejoin="round">120.00</text>
<text x="2507.7" y="346.5" font-size="12" fill="#131722" textLength="30.1" lengthAdjust="spacingAndGlyphs" stroke="#131722" stroke-width="0.2" stroke-linejoin="round">96.00</text>
<text x="2507.7" y="386.47" font-size="12" fill="#131722" textLength="30.1" lengthAdjust="spacingAndGlyphs" stroke="#131722" stroke-width="0.2" stroke-linejoin="round">76.00</text>
<text x="2507.7" y="424.09" font-size="12" fill="#131722" textLength="30.1" lengthAdjust="spacingAndGlyphs" stroke="#131722" stroke-width="0.2" stroke-linejoin="round">61.00</text>
<text x="2507.7" y="461.57" font-size="12" fill="#131722" textLength="30.1" lengthAdjust="spacingAndGlyphs" stroke="#131722" stroke-width="0.2" stroke-linejoin="round">49.00</text>
<text x="2507.7" y="500.63" font-size="12" fill="#131722" textLength="30.1" lengthAdjust="spacingAndGlyphs" stroke="#131722" stroke-width="0.2" stroke-linejoin="round">39.00</text>
<text x="2507.7" y="539.91" font-size="12" fill="#131722" textLength="30.1" lengthAdjust="spacingAndGlyphs" stroke="#131722" stroke-width="0.2" stroke-linejoin="round">31.00</text>
<text x="2507.7" y="576.71" font-size="12" fill="#131722" textLength="30.1" lengthAdjust="spacingAndGlyphs" stroke="#131722" stroke-width="0.2" stroke-linejoin="round">25.00</text>
<text x="2507.7" y="614.89" font-size="12" fill="#131722" textLength="30.1" lengthAdjust="spacingAndGlyphs" stroke="#131722" stroke-width="0.2" stroke-linejoin="round">20.00</text>
<text x="2507.7" y="653.07" font-size="12" fill="#131722" textLength="30.1" lengthAdjust="spacingAndGlyphs" stroke="#131722" stroke-width="0.2" stroke-linejoin="round">16.00</text>
<text x="2507.7" y="688.6" font-size="12" fill="#131722" textLength="30.1" lengthAdjust="spacingAndGlyphs" stroke="#131722" stroke-width="0.2" stroke-linejoin="round">13.00</text>
<text x="2507.7" y="725.14" font-size="12" fill="#131722" textLength="30.1" lengthAdjust="spacingAndGlyphs" stroke="#131722" stroke-width="0.2" stroke-linejoin="round">10.50</text>
<text x="2507.7" y="761.3" font-size="12" fill="#131722" textLength="23.3" lengthAdjust="spacingAndGlyphs" stroke="#131722" stroke-width="0.2" stroke-linejoin="round">8.50</text>
<text x="2507.7" y="796.98" font-size="12" fill="#131722" textLength="23.3" lengthAdjust="spacingAndGlyphs" stroke="#131722" stroke-width="0.2" stroke-linejoin="round">6.90</text>
<text x="2507.7" y="829.67" font-size="12" fill="#131722" textLength="23.3" lengthAdjust="spacingAndGlyphs" stroke="#131722" stroke-width="0.2" stroke-linejoin="round">5.70</text>
<text x="2507.7" y="862.68" font-size="12" fill="#131722" textLength="23.3" lengthAdjust="spacingAndGlyphs" stroke="#131722" stroke-width="0.2" stroke-linejoin="round">4.70</text>
<text x="2507.7" y="894.6" font-size="12" fill="#131722" textLength="23.3" lengthAdjust="spacingAndGlyphs" stroke="#131722" stroke-width="0.2" stroke-linejoin="round">3.90</text>
<text x="2507.7" y="928.45" font-size="12" fill="#131722" textLength="23.3" lengthAdjust="spacingAndGlyphs" stroke="#131722" stroke-width="0.2" stroke-linejoin="round">3.20</text>
<text x="2507.7" y="960.72" font-size="12" fill="#131722" textLength="23.3" lengthAdjust="spacingAndGlyphs" stroke="#131722" stroke-width="0.2" stroke-linejoin="round">2.65</text>
<text x="2507.7" y="993.7" font-size="12" fill="#131722" textLength="37" lengthAdjust="spacingAndGlyphs" stroke="#131722" stroke-width="0.2" stroke-linejoin="round">100.00</text>
<text x="2507.7" y="1033.9" font-size="12" fill="#131722" textLength="30.1" lengthAdjust="spacingAndGlyphs" stroke="#131722" stroke-width="0.2" stroke-linejoin="round">80.00</text>
<text x="2507.7" y="1073.5" font-size="12" fill="#131722" textLength="30.1" lengthAdjust="spacingAndGlyphs" stroke="#131722" stroke-width="0.2" stroke-linejoin="round">60.00</text>
<text x="2507.7" y="1112.9" font-size="12" fill="#131722" textLength="30.1" lengthAdjust="spacingAndGlyphs" stroke="#131722" stroke-width="0.2" stroke-linejoin="round">40.00</text>
<text x="2507.3" y="1160.3" font-size="12" fill="#131722" textLength="36.7" lengthAdjust="spacingAndGlyphs" stroke="#131722" stroke-width="0.2" stroke-linejoin="round">0.0000</text>
<path d="M2460.4,219 H2497 V237.5 H2460.4 a2.5,2.5 0 0 1 -2.5,-2.5 V221.5 a2.5,2.5 0 0 1 2.5,-2.5 Z" fill="#26a69a"/>
<path d="M2498,219 H2547 a2.5,2.5 0 0 1 2.5,2.5 V237.2 H2498 Z" fill="#26a69a"/>
<path d="M2472.9,237.5 H2497 V255.7 H2472.9 a2.5,2.5 0 0 1 -2.5,-2.5 V240 a2.5,2.5 0 0 1 2.5,-2.5 Z" fill="#fb8c00"/>
<rect x="2498" y="237.2" width="51.5" height="18.7" fill="#fb8c00"/>
<rect x="2498" y="255.9" width="51.5" height="17" fill="#9c27b0"/>
<path d="M2498,272.9 H2549.5 V288.5 a2.5,2.5 0 0 1 -2.5,2.5 H2498 Z" fill="#2962ff"/>
<text x="2462.4" y="233.3" font-size="12" fill="#fff" textLength="30" lengthAdjust="spacingAndGlyphs" stroke="#fff" stroke-width="0.2" stroke-linejoin="round">NVDA</text>
<text x="2475" y="251.4" font-size="12" fill="#fff" textLength="17.4" lengthAdjust="spacingAndGlyphs" stroke="#fff" stroke-width="0.2" stroke-linejoin="round">Pre</text>
<text x="2507.8" y="233.3" font-size="12" fill="#fff" textLength="36.5" lengthAdjust="spacingAndGlyphs" stroke="#fff" stroke-width="0.2" stroke-linejoin="round">186.58</text>
<text x="2507.8" y="251.4" font-size="12" fill="#fff" textLength="36.5" lengthAdjust="spacingAndGlyphs" stroke="#fff" stroke-width="0.2" stroke-linejoin="round">185.66</text>
<text x="2507.8" y="268.7" font-size="12" fill="#fff" textLength="36.5" lengthAdjust="spacingAndGlyphs" stroke="#fff" stroke-width="0.2" stroke-linejoin="round">152.81</text>
<text x="2507.8" y="286.5" font-size="12" fill="#fff" textLength="36.5" lengthAdjust="spacingAndGlyphs" stroke="#fff" stroke-width="0.2" stroke-linejoin="round">140.70</text>
<rect x="2502" y="6.7" width="55.5" height="25.8" rx="4.5" fill="#fff" stroke="#eff0f3" stroke-width="1"/>
<text x="2505.5" y="23.75" font-size="13" fill="#131722" textLength="21.2" lengthAdjust="spacingAndGlyphs" stroke="#131722" stroke-width="0.2" stroke-linejoin="round">USD</text>
<path d="M2547.6,18.2 L2550.3,20.7 L2553,18.2" fill="none" stroke="#131722" stroke-width="1.4"/>
<rect x="1" y="1170" width="2559" height="29" fill="#fff"/>
<text x="16.6" y="1189.4" font-size="12" fill="#131722" text-anchor="middle" stroke="#131722" stroke-width="0.1" stroke-linejoin="round">Jul</text>
<text x="90.3" y="1189.4" font-size="12" fill="#131722" font-weight="bold" textLength="28.4" lengthAdjust="spacingAndGlyphs">2017</text>
<text x="191.6" y="1189.4" font-size="12" fill="#131722" text-anchor="middle" stroke="#131722" stroke-width="0.1" stroke-linejoin="round">Jul</text>
<text x="265.3" y="1189.4" font-size="12" fill="#131722" font-weight="bold" textLength="28.4" lengthAdjust="spacingAndGlyphs">2018</text>
<text x="366.6" y="1189.4" font-size="12" fill="#131722" text-anchor="middle" stroke="#131722" stroke-width="0.1" stroke-linejoin="round">Jul</text>
<text x="440.3" y="1189.4" font-size="12" fill="#131722" font-weight="bold" textLength="28.4" lengthAdjust="spacingAndGlyphs">2019</text>
<text x="541.6" y="1189.4" font-size="12" fill="#131722" text-anchor="middle" stroke="#131722" stroke-width="0.1" stroke-linejoin="round">Jul</text>
<text x="615.3" y="1189.4" font-size="12" fill="#131722" font-weight="bold" textLength="28.4" lengthAdjust="spacingAndGlyphs">2020</text>
<text x="716.6" y="1189.4" font-size="12" fill="#131722" text-anchor="middle" stroke="#131722" stroke-width="0.1" stroke-linejoin="round">Jul</text>
<text x="790.3" y="1189.4" font-size="12" fill="#131722" font-weight="bold" textLength="28.4" lengthAdjust="spacingAndGlyphs">2021</text>
<text x="891.6" y="1189.4" font-size="12" fill="#131722" text-anchor="middle" stroke="#131722" stroke-width="0.1" stroke-linejoin="round">Jul</text>
<text x="965.3" y="1189.4" font-size="12" fill="#131722" font-weight="bold" textLength="28.4" lengthAdjust="spacingAndGlyphs">2022</text>
<text x="1066.6" y="1189.4" font-size="12" fill="#131722" text-anchor="middle" stroke="#131722" stroke-width="0.1" stroke-linejoin="round">Jul</text>
<text x="1140.3" y="1189.4" font-size="12" fill="#131722" font-weight="bold" textLength="28.4" lengthAdjust="spacingAndGlyphs">2023</text>
<text x="1241.6" y="1189.4" font-size="12" fill="#131722" text-anchor="middle" stroke="#131722" stroke-width="0.1" stroke-linejoin="round">Jul</text>
<text x="1315.3" y="1189.4" font-size="12" fill="#131722" font-weight="bold" textLength="28.4" lengthAdjust="spacingAndGlyphs">2024</text>
<text x="1416.6" y="1189.4" font-size="12" fill="#131722" text-anchor="middle" stroke="#131722" stroke-width="0.1" stroke-linejoin="round">Jul</text>
<text x="1490.3" y="1189.4" font-size="12" fill="#131722" font-weight="bold" textLength="28.4" lengthAdjust="spacingAndGlyphs">2025</text>
<text x="1591.6" y="1189.4" font-size="12" fill="#131722" text-anchor="middle" stroke="#131722" stroke-width="0.1" stroke-linejoin="round">Jul</text>
<text x="1665.3" y="1189.4" font-size="12" fill="#131722" font-weight="bold" textLength="28.4" lengthAdjust="spacingAndGlyphs">2026</text>
<text x="1766.6" y="1189.4" font-size="12" fill="#131722" text-anchor="middle" stroke="#131722" stroke-width="0.1" stroke-linejoin="round">Jul</text>
<text x="1840.3" y="1189.4" font-size="12" fill="#131722" font-weight="bold" textLength="28.4" lengthAdjust="spacingAndGlyphs">2027</text>
<text x="1941.6" y="1189.4" font-size="12" fill="#131722" text-anchor="middle" stroke="#131722" stroke-width="0.1" stroke-linejoin="round">Jul</text>
<text x="2015.3" y="1189.4" font-size="12" fill="#131722" font-weight="bold" textLength="28.4" lengthAdjust="spacingAndGlyphs">2028</text>
<text x="2116.6" y="1189.4" font-size="12" fill="#131722" text-anchor="middle" stroke="#131722" stroke-width="0.1" stroke-linejoin="round">Jul</text>
<text x="2190.3" y="1189.4" font-size="12" fill="#131722" font-weight="bold" textLength="28.4" lengthAdjust="spacingAndGlyphs">2029</text>
<text x="2291.6" y="1189.4" font-size="12" fill="#131722" text-anchor="middle" stroke="#131722" stroke-width="0.1" stroke-linejoin="round">Jul</text>
<text x="2365.3" y="1189.4" font-size="12" fill="#131722" font-weight="bold" textLength="28.4" lengthAdjust="spacingAndGlyphs">2030</text>
<text x="2466.6" y="1189.4" font-size="12" fill="#131722" text-anchor="middle" stroke="#131722" stroke-width="0.1" stroke-linejoin="round">Jul</text>
<g fill="none" stroke="#2a2e39" stroke-width="1.2"><path d="M2523,1185 L2526.6,1178.7 H2533.9 L2537.5,1185 L2533.9,1191.3 H2526.6 Z" stroke-linejoin="round"/><circle cx="2530.25" cy="1185" r="2.1"/></g>
<g transform="translate(0.2 0.3)"><circle cx="19" cy="19" r="9.2" fill="#131518"/>
<path d="M18.2,14.8 H25.3 V23.6 H18.2 L13,20.2 Q12.3,19.2 13,18.2 Z" fill="#76b900"/>
<path d="M15,19.2 Q17.5,16.4 21,17.6 Q22.6,18.6 21.4,20 Q19,21.8 17,20.4" fill="none" stroke="#1d3300" stroke-width="0.9"/></g>
<text x="33" y="24.63" font-size="16" fill="#131722" textLength="247.5" lengthAdjust="spacingAndGlyphs" stroke="#131722" stroke-width="0.2" stroke-linejoin="round">NVIDIA Corporation · 1M · NASDAQ</text>
<path d="M293,12.6 H305.4 L302,18.9 L305.4,25.2 H293 Z" fill="#ff4a4f"/>
<circle cx="327" cy="19" r="9.4" fill="#ff9800" fill-opacity="0.13"/>
<path d="M323.6,20.9 a3.5,3.7 0 0 1 7,0 Q327.1,19.4 323.6,20.9 Z" fill="#fb8c00" stroke="#fb8c00" stroke-width="0.8" stroke-linejoin="round"/>
<g stroke="#fb8c00" stroke-width="1.3" stroke-linecap="round"><path d="M324.5,14.2 L325.3,15.4"/><path d="M330.6,14.2 L329.8,15.4"/><path d="M321,18.6 L322,18.6"/><path d="M333,18.6 L334,18.6"/></g>
<text x="345.3" y="23.45" font-size="13" fill="#131722" textLength="9.2" lengthAdjust="spacingAndGlyphs" stroke="#131722" stroke-width="0.2" stroke-linejoin="round">O</text>
<text x="356.3" y="23.45" font-size="13" fill="#1fa698" textLength="39.7" lengthAdjust="spacingAndGlyphs" stroke="#1fa698" stroke-width="0.2" stroke-linejoin="round">170.00</text>
<text x="402.7" y="23.45" font-size="13" fill="#131722" textLength="8" lengthAdjust="spacingAndGlyphs" stroke="#131722" stroke-width="0.2" stroke-linejoin="round">H</text>
<text x="412.8" y="23.45" font-size="13" fill="#1fa698" textLength="39.4" lengthAdjust="spacingAndGlyphs" stroke="#1fa698" stroke-width="0.2" stroke-linejoin="round">187.35</text>
<text x="459.6" y="23.45" font-size="13" fill="#131722" stroke="#131722" stroke-width="0.2" stroke-linejoin="round">L</text>
<text x="467.7" y="23.45" font-size="13" fill="#1fa698" textLength="39.3" lengthAdjust="spacingAndGlyphs" stroke="#1fa698" stroke-width="0.2" stroke-linejoin="round">164.07</text>
<text x="513.8" y="23.45" font-size="13" fill="#131722" textLength="7.6" lengthAdjust="spacingAndGlyphs" stroke="#131722" stroke-width="0.2" stroke-linejoin="round">C</text>
<text x="523.6" y="23.45" font-size="13" fill="#1fa698" textLength="39.4" lengthAdjust="spacingAndGlyphs" stroke="#1fa698" stroke-width="0.2" stroke-linejoin="round">186.58</text>
<text x="570" y="23.45" font-size="13" fill="#1fa698" textLength="95.2" lengthAdjust="spacingAndGlyphs" stroke="#1fa698" stroke-width="0.2" stroke-linejoin="round">+12.40 (+7.12%)</text>
<rect x="9.5" y="35.5" width="63" height="35" rx="4.5" fill="#fff" stroke="#f23645" stroke-opacity="0.8" stroke-width="1"/>
<rect x="109.5" y="35.5" width="63" height="35" rx="4.5" fill="#fff" stroke="#2962ff" stroke-opacity="0.8" stroke-width="1"/>
<text x="41" y="50.15" font-size="13" fill="#f23645" font-weight="bold" text-anchor="middle" textLength="40" lengthAdjust="spacingAndGlyphs">185.66</text>
<text x="41" y="64.3" font-size="12" fill="#f23645" text-anchor="middle" textLength="24.6" lengthAdjust="spacingAndGlyphs" stroke="#f23645" stroke-width="0.2" stroke-linejoin="round">SELL</text>
<text x="141" y="50.15" font-size="13" fill="#2962ff" font-weight="bold" text-anchor="middle" textLength="40" lengthAdjust="spacingAndGlyphs">185.70</text>
<text x="141" y="64.3" font-size="12" fill="#2962ff" text-anchor="middle" textLength="21.2" lengthAdjust="spacingAndGlyphs" stroke="#2962ff" stroke-width="0.2" stroke-linejoin="round">BUY</text>
<text x="81" y="57.44" font-size="11" fill="#131722" textLength="20" lengthAdjust="spacingAndGlyphs" stroke="#131722" stroke-width="0.2" stroke-linejoin="round">0.04</text>
<text x="9.6" y="92.43" font-size="13.5" fill="#131722" textLength="134.4" lengthAdjust="spacingAndGlyphs" stroke="#131722" stroke-width="0.2" stroke-linejoin="round">SMA 100 close 0 SMA 5</text>
<circle cx="162.4" cy="88" r="9.3" fill="#7c4dff" fill-opacity="0.17"/>
<g transform="translate(162.4 88)" fill="none" stroke="#6a2cff" stroke-width="1.35" stroke-linecap="round" stroke-linejoin="round">
<path d="M-5.5,-1.4 A5.7,5.7 0 0 1 5.0,-2.8"/><path d="M5.5,1.4 A5.7,5.7 0 0 1 -5.0,2.8"/>
<path d="M3.4,-2.4 L6.6,-1.6 L6.2,-4.9 Z" fill="#6a2cff" stroke-width="0.7"/><path d="M-3.4,2.4 L-6.6,1.6 L-6.2,4.9 Z" fill="#6a2cff" stroke-width="0.7"/>
</g>
<text x="180.4" y="92.43" font-size="13.5" fill="#ff9800" textLength="32.6" lengthAdjust="spacingAndGlyphs" stroke="#ff9800" stroke-width="0.2" stroke-linejoin="round">37.98</text>
<text x="9.6" y="116.93" font-size="13.5" fill="#131722" textLength="95.4" lengthAdjust="spacingAndGlyphs" stroke="#131722" stroke-width="0.2" stroke-linejoin="round">MA Cross 20 100</text>
<circle cx="122.8" cy="112.5" r="9.3" fill="#7c4dff" fill-opacity="0.17"/>
<g transform="translate(122.8 112.5)" fill="none" stroke="#6a2cff" stroke-width="1.35" stroke-linecap="round" stroke-linejoin="round">
<path d="M-5.5,-1.4 A5.7,5.7 0 0 1 5.0,-2.8"/><path d="M5.5,1.4 A5.7,5.7 0 0 1 -5.0,2.8"/>
<path d="M3.4,-2.4 L6.6,-1.6 L6.2,-4.9 Z" fill="#6a2cff" stroke-width="0.7"/><path d="M-3.4,2.4 L-6.6,1.6 L-6.2,4.9 Z" fill="#6a2cff" stroke-width="0.7"/>
</g>
<text x="141.3" y="116.93" font-size="13.5" fill="#7e57c2" textLength="38.7" lengthAdjust="spacingAndGlyphs" stroke="#7e57c2" stroke-width="0.2" stroke-linejoin="round">127.31</text>
<text x="188" y="116.93" font-size="13.5" fill="#ff9800" textLength="32.8" lengthAdjust="spacingAndGlyphs" stroke="#ff9800" stroke-width="0.2" stroke-linejoin="round">37.98</text>
<text x="228.2" y="117.67" font-size="15" fill="#434651" textLength="9.6" lengthAdjust="spacingAndGlyphs">∅</text>
<text x="10" y="142.33" font-size="13.5" fill="#b0b1b6" textLength="107" lengthAdjust="spacingAndGlyphs" stroke="#b0b1b6" stroke-width="0.2" stroke-linejoin="round">BB 20 SMA close 2</text>
<g transform="translate(136 137.9)" fill="none" stroke="#1b1e28" stroke-width="1.15" stroke-linecap="round">
<path d="M-7.7,0.2 C-5.6,-6.6 5.6,-6.6 7.7,0.2 C5.6,7 -5.6,7 -7.7,0.2 Z"/><circle cy="0.2" r="2.2"/>
<path d="M-4.7,7.2 L6.5,-5.4" stroke="#fff" stroke-width="1.3"/>
<path d="M-5.6,6.2 L5.6,-6.4"/>
</g>
<text x="10" y="167.33" font-size="13.5" fill="#b0b1b6" textLength="145" lengthAdjust="spacingAndGlyphs" stroke="#b0b1b6" stroke-width="0.2" stroke-linejoin="round">VP 200 500 50 30 2 Both</text>
<g transform="translate(174.1 162.9)" fill="none" stroke="#1b1e28" stroke-width="1.15" stroke-linecap="round">
<path d="M-7.7,0.2 C-5.6,-6.6 5.6,-6.6 7.7,0.2 C5.6,7 -5.6,7 -7.7,0.2 Z"/><circle cy="0.2" r="2.2"/>
<path d="M-4.7,7.2 L6.5,-5.4" stroke="#fff" stroke-width="1.3"/>
<path d="M-5.6,6.2 L5.6,-6.4"/>
</g>
<text x="9.6" y="191.93" font-size="13.5" fill="#131722" textLength="95.4" lengthAdjust="spacingAndGlyphs" stroke="#131722" stroke-width="0.2" stroke-linejoin="round">MA Cross 50 200</text>
<circle cx="122.8" cy="187.5" r="9.3" fill="#7c4dff" fill-opacity="0.17"/>
<g transform="translate(122.8 187.5)" fill="none" stroke="#6a2cff" stroke-width="1.35" stroke-linecap="round" stroke-linejoin="round">
<path d="M-5.5,-1.4 A5.7,5.7 0 0 1 5.0,-2.8"/><path d="M5.5,1.4 A5.7,5.7 0 0 1 -5.0,2.8"/>
<path d="M3.4,-2.4 L6.6,-1.6 L6.2,-4.9 Z" fill="#6a2cff" stroke-width="0.7"/><path d="M-3.4,2.4 L-6.6,1.6 L-6.2,4.9 Z" fill="#6a2cff" stroke-width="0.7"/>
</g>
<text x="141" y="191.93" font-size="13.5" fill="#f23645" textLength="32.8" lengthAdjust="spacingAndGlyphs" stroke="#f23645" stroke-width="0.2" stroke-linejoin="round">68.25</text>
<text x="181.2" y="191.93" font-size="13.5" fill="#3333ff" textLength="31.3" lengthAdjust="spacingAndGlyphs" stroke="#3333ff" stroke-width="0.2" stroke-linejoin="round">19.31</text>
<text x="220.8" y="192.67" font-size="15" fill="#434651" textLength="9.6" lengthAdjust="spacingAndGlyphs">∅</text>
<rect x="9.5" y="204" width="29" height="20.5" rx="3" fill="#fff" stroke="#e3e4e9" stroke-width="1"/>
<path d="M19.6,216.2 L23.8,212.2 L28,216.2" fill="none" stroke="#131722" stroke-width="1.4"/>
<rect x="1" y="987.5" width="251" height="24.5" fill="#fff" fill-opacity="0.5"/>
<text x="10" y="1003.93" font-size="13.5" fill="#131722" textLength="70" lengthAdjust="spacingAndGlyphs" stroke="#131722" stroke-width="0.2" stroke-linejoin="round">RSI 14 close</text>
<circle cx="98" cy="999.5" r="9.3" fill="#7c4dff" fill-opacity="0.17"/>
<g transform="translate(98 999.5)" fill="none" stroke="#6a2cff" stroke-width="1.35" stroke-linecap="round" stroke-linejoin="round">
<path d="M-5.5,-1.4 A5.7,5.7 0 0 1 5.0,-2.8"/><path d="M5.5,1.4 A5.7,5.7 0 0 1 -5.0,2.8"/>
<path d="M3.4,-2.4 L6.6,-1.6 L6.2,-4.9 Z" fill="#6a2cff" stroke-width="0.7"/><path d="M-3.4,2.4 L-6.6,1.6 L-6.2,4.9 Z" fill="#6a2cff" stroke-width="0.7"/>
</g>
<text x="116.2" y="1003.93" font-size="13.5" fill="#7e57c2" textLength="32.6" lengthAdjust="spacingAndGlyphs" stroke="#7e57c2" stroke-width="0.2" stroke-linejoin="round">78.16</text>
<text x="155.5" y="1003.93" font-size="13.5" fill="#fbe23a" textLength="33.3" lengthAdjust="spacingAndGlyphs" stroke="#fbe23a" stroke-width="0.2" stroke-linejoin="round">75.39</text>
<text x="195.9" y="1004.67" font-size="15" fill="#434651" textLength="9.6" lengthAdjust="spacingAndGlyphs">∅</text>
<text x="211.25" y="1004.67" font-size="15" fill="#434651" textLength="9.6" lengthAdjust="spacingAndGlyphs">∅</text>
<text x="226.6" y="1004.67" font-size="15" fill="#434651" textLength="9.6" lengthAdjust="spacingAndGlyphs">∅</text>
<text x="241.95" y="1004.67" font-size="15" fill="#434651" textLength="9.6" lengthAdjust="spacingAndGlyphs">∅</text>
<defs><clipPath id="cy"><rect x="0" y="1142.4" width="200" height="12.5"/></clipPath></defs>
<g clip-path="url(#cy)" fill="#0c0e14">
<rect x="13.1" y="1138" width="12.3" height="8"/><rect x="20.3" y="1142" width="5.1" height="13"/>
<circle cx="31.1" cy="1142.5" r="3.3"/>
<path d="M37.2,1140 H43.9 L38.4,1155 H31.7 Z"/>
</g>
<rect x="1" y="1146.2" width="165" height="24" fill="#fff" fill-opacity="0.5"/>
<text x="10" y="1164.03" font-size="13.5" fill="#b0b1b6" textLength="120.5" lengthAdjust="spacingAndGlyphs" stroke="#b0b1b6" stroke-width="0.2" stroke-linejoin="round">Yield Curve (2-10yr)</text>
<g transform="translate(149.6 1159.6)" fill="none" stroke="#1b1e28" stroke-width="1.15" stroke-linecap="round">
<path d="M-7.7,0.2 C-5.6,-6.6 5.6,-6.6 7.7,0.2 C5.6,7 -5.6,7 -7.7,0.2 Z"/><circle cy="0.2" r="2.2"/>
<path d="M-4.7,7.2 L6.5,-5.4" stroke="#fff" stroke-width="1.3"/>
<path d="M-5.6,6.2 L5.6,-6.4"/>
</g>
</svg>
</body></html>
